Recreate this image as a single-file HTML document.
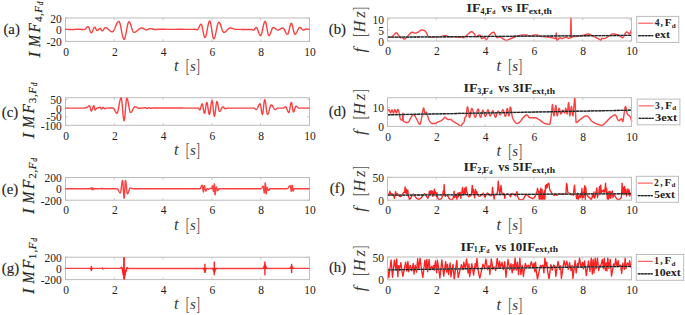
<!DOCTYPE html>
<html><head><meta charset="utf-8"><style>
html,body{margin:0;padding:0;background:#fff;overflow:hidden;}
svg{display:block;}
text{font-family:"Liberation Serif", serif;fill:#222;}
.hv{stroke:#333;stroke-width:0.2px;}
.hl{stroke:#222;stroke-width:0.15px;}
</style></head><body>
<svg width="685" height="315" viewBox="0 0 685 315">
<rect x="0" y="0" width="685" height="315" fill="#fff"/>
<rect x="65.5" y="18" width="244" height="23.4" fill="none" stroke="#bcbcbc" stroke-width="1"/>
<line x1="114.3" y1="41.4" x2="114.3" y2="39.2" stroke="#bcbcbc" stroke-width="0.8"/>
<line x1="114.3" y1="18" x2="114.3" y2="20.2" stroke="#bcbcbc" stroke-width="0.8"/>
<line x1="163.1" y1="41.4" x2="163.1" y2="39.2" stroke="#bcbcbc" stroke-width="0.8"/>
<line x1="163.1" y1="18" x2="163.1" y2="20.2" stroke="#bcbcbc" stroke-width="0.8"/>
<line x1="211.9" y1="41.4" x2="211.9" y2="39.2" stroke="#bcbcbc" stroke-width="0.8"/>
<line x1="211.9" y1="18" x2="211.9" y2="20.2" stroke="#bcbcbc" stroke-width="0.8"/>
<line x1="260.7" y1="41.4" x2="260.7" y2="39.2" stroke="#bcbcbc" stroke-width="0.8"/>
<line x1="260.7" y1="18" x2="260.7" y2="20.2" stroke="#bcbcbc" stroke-width="0.8"/>
<line x1="65.5" y1="18" x2="67.7" y2="18" stroke="#bcbcbc" stroke-width="0.8"/>
<line x1="309.5" y1="18" x2="307.3" y2="18" stroke="#bcbcbc" stroke-width="0.8"/>
<line x1="65.5" y1="29.6" x2="67.7" y2="29.6" stroke="#bcbcbc" stroke-width="0.8"/>
<line x1="309.5" y1="29.6" x2="307.3" y2="29.6" stroke="#bcbcbc" stroke-width="0.8"/>
<line x1="65.5" y1="41.3" x2="67.7" y2="41.3" stroke="#bcbcbc" stroke-width="0.8"/>
<line x1="309.5" y1="41.3" x2="307.3" y2="41.3" stroke="#bcbcbc" stroke-width="0.8"/>
<text x="61.8" y="22.5" font-size="11.5" text-anchor="end" font-weight="normal" font-style="normal" >20</text>
<text x="61.8" y="34.1" font-size="11.5" text-anchor="end" font-weight="normal" font-style="normal" >0</text>
<text x="61.8" y="45.8" font-size="11.5" text-anchor="end" font-weight="normal" font-style="normal" >-20</text>
<text x="66" y="55.6" font-size="11.5" text-anchor="middle" font-weight="normal" font-style="normal" >0</text>
<text x="114.8" y="55.6" font-size="11.5" text-anchor="middle" font-weight="normal" font-style="normal" >2</text>
<text x="163.6" y="55.6" font-size="11.5" text-anchor="middle" font-weight="normal" font-style="normal" >4</text>
<text x="212.4" y="55.6" font-size="11.5" text-anchor="middle" font-weight="normal" font-style="normal" >6</text>
<text x="261.2" y="55.6" font-size="11.5" text-anchor="middle" font-weight="normal" font-style="normal" >8</text>
<text x="310" y="55.6" font-size="11.5" text-anchor="middle" font-weight="normal" font-style="normal" >10</text>
<text x="174.02" y="71.2" font-size="16.5" font-style="italic" font-weight="normal" style="fill:#383838">t</text>
<text x="185.78" y="72.1" font-size="18.5" font-style="normal" font-weight="normal" textLength="3.7" lengthAdjust="spacingAndGlyphs" style="fill:#555">[</text>
<text x="189.97" y="71.2" font-size="15" font-style="italic" font-weight="normal" style="fill:#383838">s</text>
<text x="196.15" y="72.1" font-size="18.5" font-style="normal" font-weight="normal" textLength="3.7" lengthAdjust="spacingAndGlyphs" style="fill:#555">]</text>
<text class="hl" x="3.45" y="34.16" font-size="14.8">(a)</text>
<text transform="translate(39.8,58) rotate(-90)" x="0.47" y="0" font-size="17" font-style="italic" font-weight="normal" class="hv">I</text>
<text transform="translate(39.8,58) rotate(-90)" x="10.97" y="0" font-size="17" font-style="italic" font-weight="normal" textLength="11.9" lengthAdjust="spacingAndGlyphs" class="hv">M</text>
<text transform="translate(39.8,58) rotate(-90)" x="25.48" y="0" font-size="17" font-style="italic" font-weight="normal" textLength="9.35" lengthAdjust="spacingAndGlyphs" class="hv">F</text>
<text transform="translate(39.8,58) rotate(-90)" x="36.09" y="2" font-size="11" font-style="normal" font-weight="normal" class="hl">4</text>
<text transform="translate(39.8,58) rotate(-90)" x="41.98" y="2" font-size="11" font-style="normal" font-weight="normal" class="hl">,</text>
<text transform="translate(39.8,58) rotate(-90)" x="45.36" y="2" font-size="11" font-style="italic" font-weight="normal" class="hl">F</text>
<text transform="translate(39.8,58) rotate(-90)" x="52.77" y="3.2" font-size="7.5" font-style="italic" font-weight="normal" class="hl">d</text>
<rect x="65.5" y="97.7" width="244" height="27.6" fill="none" stroke="#bcbcbc" stroke-width="1"/>
<line x1="114.3" y1="125.3" x2="114.3" y2="123.1" stroke="#bcbcbc" stroke-width="0.8"/>
<line x1="114.3" y1="97.7" x2="114.3" y2="99.9" stroke="#bcbcbc" stroke-width="0.8"/>
<line x1="163.1" y1="125.3" x2="163.1" y2="123.1" stroke="#bcbcbc" stroke-width="0.8"/>
<line x1="163.1" y1="97.7" x2="163.1" y2="99.9" stroke="#bcbcbc" stroke-width="0.8"/>
<line x1="211.9" y1="125.3" x2="211.9" y2="123.1" stroke="#bcbcbc" stroke-width="0.8"/>
<line x1="211.9" y1="97.7" x2="211.9" y2="99.9" stroke="#bcbcbc" stroke-width="0.8"/>
<line x1="260.7" y1="125.3" x2="260.7" y2="123.1" stroke="#bcbcbc" stroke-width="0.8"/>
<line x1="260.7" y1="97.7" x2="260.7" y2="99.9" stroke="#bcbcbc" stroke-width="0.8"/>
<line x1="65.5" y1="99.4" x2="67.7" y2="99.4" stroke="#bcbcbc" stroke-width="0.8"/>
<line x1="309.5" y1="99.4" x2="307.3" y2="99.4" stroke="#bcbcbc" stroke-width="0.8"/>
<line x1="65.5" y1="108.1" x2="67.7" y2="108.1" stroke="#bcbcbc" stroke-width="0.8"/>
<line x1="309.5" y1="108.1" x2="307.3" y2="108.1" stroke="#bcbcbc" stroke-width="0.8"/>
<line x1="65.5" y1="116.8" x2="67.7" y2="116.8" stroke="#bcbcbc" stroke-width="0.8"/>
<line x1="309.5" y1="116.8" x2="307.3" y2="116.8" stroke="#bcbcbc" stroke-width="0.8"/>
<line x1="65.5" y1="125.5" x2="67.7" y2="125.5" stroke="#bcbcbc" stroke-width="0.8"/>
<line x1="309.5" y1="125.5" x2="307.3" y2="125.5" stroke="#bcbcbc" stroke-width="0.8"/>
<text x="61.8" y="103.9" font-size="11.5" text-anchor="end" font-weight="normal" font-style="normal" >50</text>
<text x="61.8" y="112.6" font-size="11.5" text-anchor="end" font-weight="normal" font-style="normal" >0</text>
<text x="61.8" y="121.3" font-size="11.5" text-anchor="end" font-weight="normal" font-style="normal" >-50</text>
<text x="61.8" y="130" font-size="11.5" text-anchor="end" font-weight="normal" font-style="normal" >-100</text>
<text x="66" y="139.5" font-size="11.5" text-anchor="middle" font-weight="normal" font-style="normal" >0</text>
<text x="114.8" y="139.5" font-size="11.5" text-anchor="middle" font-weight="normal" font-style="normal" >2</text>
<text x="163.6" y="139.5" font-size="11.5" text-anchor="middle" font-weight="normal" font-style="normal" >4</text>
<text x="212.4" y="139.5" font-size="11.5" text-anchor="middle" font-weight="normal" font-style="normal" >6</text>
<text x="261.2" y="139.5" font-size="11.5" text-anchor="middle" font-weight="normal" font-style="normal" >8</text>
<text x="310" y="139.5" font-size="11.5" text-anchor="middle" font-weight="normal" font-style="normal" >10</text>
<text x="174.02" y="155.1" font-size="16.5" font-style="italic" font-weight="normal" style="fill:#383838">t</text>
<text x="185.78" y="156" font-size="18.5" font-style="normal" font-weight="normal" textLength="3.7" lengthAdjust="spacingAndGlyphs" style="fill:#555">[</text>
<text x="189.97" y="155.1" font-size="15" font-style="italic" font-weight="normal" style="fill:#383838">s</text>
<text x="196.15" y="156" font-size="18.5" font-style="normal" font-weight="normal" textLength="3.7" lengthAdjust="spacingAndGlyphs" style="fill:#555">]</text>
<text class="hl" x="1.85" y="116.71" font-size="14.8">(c)</text>
<text transform="translate(33.8,139) rotate(-90)" x="0.47" y="0" font-size="17" font-style="italic" font-weight="normal" class="hv">I</text>
<text transform="translate(33.8,139) rotate(-90)" x="10.97" y="0" font-size="17" font-style="italic" font-weight="normal" textLength="11.9" lengthAdjust="spacingAndGlyphs" class="hv">M</text>
<text transform="translate(33.8,139) rotate(-90)" x="25.48" y="0" font-size="17" font-style="italic" font-weight="normal" textLength="9.35" lengthAdjust="spacingAndGlyphs" class="hv">F</text>
<text transform="translate(33.8,139) rotate(-90)" x="35.77" y="2" font-size="11" font-style="normal" font-weight="normal" class="hl">3</text>
<text transform="translate(33.8,139) rotate(-90)" x="41.98" y="2" font-size="11" font-style="normal" font-weight="normal" class="hl">,</text>
<text transform="translate(33.8,139) rotate(-90)" x="45.36" y="2" font-size="11" font-style="italic" font-weight="normal" class="hl">F</text>
<text transform="translate(33.8,139) rotate(-90)" x="52.77" y="3.2" font-size="7.5" font-style="italic" font-weight="normal" class="hl">d</text>
<rect x="65.5" y="177.5" width="244" height="22.7" fill="none" stroke="#bcbcbc" stroke-width="1"/>
<line x1="114.3" y1="200.2" x2="114.3" y2="198" stroke="#bcbcbc" stroke-width="0.8"/>
<line x1="114.3" y1="177.5" x2="114.3" y2="179.7" stroke="#bcbcbc" stroke-width="0.8"/>
<line x1="163.1" y1="200.2" x2="163.1" y2="198" stroke="#bcbcbc" stroke-width="0.8"/>
<line x1="163.1" y1="177.5" x2="163.1" y2="179.7" stroke="#bcbcbc" stroke-width="0.8"/>
<line x1="211.9" y1="200.2" x2="211.9" y2="198" stroke="#bcbcbc" stroke-width="0.8"/>
<line x1="211.9" y1="177.5" x2="211.9" y2="179.7" stroke="#bcbcbc" stroke-width="0.8"/>
<line x1="260.7" y1="200.2" x2="260.7" y2="198" stroke="#bcbcbc" stroke-width="0.8"/>
<line x1="260.7" y1="177.5" x2="260.7" y2="179.7" stroke="#bcbcbc" stroke-width="0.8"/>
<line x1="65.5" y1="177.5" x2="67.7" y2="177.5" stroke="#bcbcbc" stroke-width="0.8"/>
<line x1="309.5" y1="177.5" x2="307.3" y2="177.5" stroke="#bcbcbc" stroke-width="0.8"/>
<line x1="65.5" y1="188.8" x2="67.7" y2="188.8" stroke="#bcbcbc" stroke-width="0.8"/>
<line x1="309.5" y1="188.8" x2="307.3" y2="188.8" stroke="#bcbcbc" stroke-width="0.8"/>
<line x1="65.5" y1="200.2" x2="67.7" y2="200.2" stroke="#bcbcbc" stroke-width="0.8"/>
<line x1="309.5" y1="200.2" x2="307.3" y2="200.2" stroke="#bcbcbc" stroke-width="0.8"/>
<text x="61.8" y="182" font-size="11.5" text-anchor="end" font-weight="normal" font-style="normal" >200</text>
<text x="61.8" y="193.3" font-size="11.5" text-anchor="end" font-weight="normal" font-style="normal" >0</text>
<text x="61.8" y="204.7" font-size="11.5" text-anchor="end" font-weight="normal" font-style="normal" >-200</text>
<text x="66" y="214.4" font-size="11.5" text-anchor="middle" font-weight="normal" font-style="normal" >0</text>
<text x="114.8" y="214.4" font-size="11.5" text-anchor="middle" font-weight="normal" font-style="normal" >2</text>
<text x="163.6" y="214.4" font-size="11.5" text-anchor="middle" font-weight="normal" font-style="normal" >4</text>
<text x="212.4" y="214.4" font-size="11.5" text-anchor="middle" font-weight="normal" font-style="normal" >6</text>
<text x="261.2" y="214.4" font-size="11.5" text-anchor="middle" font-weight="normal" font-style="normal" >8</text>
<text x="310" y="214.4" font-size="11.5" text-anchor="middle" font-weight="normal" font-style="normal" >10</text>
<text x="174.02" y="230" font-size="16.5" font-style="italic" font-weight="normal" style="fill:#383838">t</text>
<text x="185.78" y="230.9" font-size="18.5" font-style="normal" font-weight="normal" textLength="3.7" lengthAdjust="spacingAndGlyphs" style="fill:#555">[</text>
<text x="189.97" y="230" font-size="15" font-style="italic" font-weight="normal" style="fill:#383838">s</text>
<text x="196.15" y="230.9" font-size="18.5" font-style="normal" font-weight="normal" textLength="3.7" lengthAdjust="spacingAndGlyphs" style="fill:#555">]</text>
<text class="hl" x="1.85" y="193.56" font-size="14.8">(e)</text>
<text transform="translate(33.8,214.5) rotate(-90)" x="0.47" y="0" font-size="17" font-style="italic" font-weight="normal" class="hv">I</text>
<text transform="translate(33.8,214.5) rotate(-90)" x="10.97" y="0" font-size="17" font-style="italic" font-weight="normal" textLength="11.9" lengthAdjust="spacingAndGlyphs" class="hv">M</text>
<text transform="translate(33.8,214.5) rotate(-90)" x="25.48" y="0" font-size="17" font-style="italic" font-weight="normal" textLength="9.35" lengthAdjust="spacingAndGlyphs" class="hv">F</text>
<text transform="translate(33.8,214.5) rotate(-90)" x="35.82" y="2" font-size="11" font-style="normal" font-weight="normal" class="hl">2</text>
<text transform="translate(33.8,214.5) rotate(-90)" x="41.98" y="2" font-size="11" font-style="normal" font-weight="normal" class="hl">,</text>
<text transform="translate(33.8,214.5) rotate(-90)" x="45.36" y="2" font-size="11" font-style="italic" font-weight="normal" class="hl">F</text>
<text transform="translate(33.8,214.5) rotate(-90)" x="52.77" y="3.2" font-size="7.5" font-style="italic" font-weight="normal" class="hl">d</text>
<rect x="65.5" y="257.2" width="244" height="22.4" fill="none" stroke="#bcbcbc" stroke-width="1"/>
<line x1="114.3" y1="279.6" x2="114.3" y2="277.4" stroke="#bcbcbc" stroke-width="0.8"/>
<line x1="114.3" y1="257.2" x2="114.3" y2="259.4" stroke="#bcbcbc" stroke-width="0.8"/>
<line x1="163.1" y1="279.6" x2="163.1" y2="277.4" stroke="#bcbcbc" stroke-width="0.8"/>
<line x1="163.1" y1="257.2" x2="163.1" y2="259.4" stroke="#bcbcbc" stroke-width="0.8"/>
<line x1="211.9" y1="279.6" x2="211.9" y2="277.4" stroke="#bcbcbc" stroke-width="0.8"/>
<line x1="211.9" y1="257.2" x2="211.9" y2="259.4" stroke="#bcbcbc" stroke-width="0.8"/>
<line x1="260.7" y1="279.6" x2="260.7" y2="277.4" stroke="#bcbcbc" stroke-width="0.8"/>
<line x1="260.7" y1="257.2" x2="260.7" y2="259.4" stroke="#bcbcbc" stroke-width="0.8"/>
<line x1="65.5" y1="257.2" x2="67.7" y2="257.2" stroke="#bcbcbc" stroke-width="0.8"/>
<line x1="309.5" y1="257.2" x2="307.3" y2="257.2" stroke="#bcbcbc" stroke-width="0.8"/>
<line x1="65.5" y1="268.4" x2="67.7" y2="268.4" stroke="#bcbcbc" stroke-width="0.8"/>
<line x1="309.5" y1="268.4" x2="307.3" y2="268.4" stroke="#bcbcbc" stroke-width="0.8"/>
<line x1="65.5" y1="279.6" x2="67.7" y2="279.6" stroke="#bcbcbc" stroke-width="0.8"/>
<line x1="309.5" y1="279.6" x2="307.3" y2="279.6" stroke="#bcbcbc" stroke-width="0.8"/>
<text x="61.8" y="261.7" font-size="11.5" text-anchor="end" font-weight="normal" font-style="normal" >200</text>
<text x="61.8" y="272.9" font-size="11.5" text-anchor="end" font-weight="normal" font-style="normal" >0</text>
<text x="61.8" y="284.1" font-size="11.5" text-anchor="end" font-weight="normal" font-style="normal" >-200</text>
<text x="66" y="293.8" font-size="11.5" text-anchor="middle" font-weight="normal" font-style="normal" >0</text>
<text x="114.8" y="293.8" font-size="11.5" text-anchor="middle" font-weight="normal" font-style="normal" >2</text>
<text x="163.6" y="293.8" font-size="11.5" text-anchor="middle" font-weight="normal" font-style="normal" >4</text>
<text x="212.4" y="293.8" font-size="11.5" text-anchor="middle" font-weight="normal" font-style="normal" >6</text>
<text x="261.2" y="293.8" font-size="11.5" text-anchor="middle" font-weight="normal" font-style="normal" >8</text>
<text x="310" y="293.8" font-size="11.5" text-anchor="middle" font-weight="normal" font-style="normal" >10</text>
<text x="174.02" y="309.4" font-size="16.5" font-style="italic" font-weight="normal" style="fill:#383838">t</text>
<text x="185.78" y="310.3" font-size="18.5" font-style="normal" font-weight="normal" textLength="3.7" lengthAdjust="spacingAndGlyphs" style="fill:#555">[</text>
<text x="189.97" y="309.4" font-size="15" font-style="italic" font-weight="normal" style="fill:#383838">s</text>
<text x="196.15" y="310.3" font-size="18.5" font-style="normal" font-weight="normal" textLength="3.7" lengthAdjust="spacingAndGlyphs" style="fill:#555">]</text>
<text class="hl" x="1.85" y="273.26" font-size="14.8">(g)</text>
<text transform="translate(33.8,294.5) rotate(-90)" x="0.47" y="0" font-size="17" font-style="italic" font-weight="normal" class="hv">I</text>
<text transform="translate(33.8,294.5) rotate(-90)" x="10.97" y="0" font-size="17" font-style="italic" font-weight="normal" textLength="11.9" lengthAdjust="spacingAndGlyphs" class="hv">M</text>
<text transform="translate(33.8,294.5) rotate(-90)" x="25.48" y="0" font-size="17" font-style="italic" font-weight="normal" textLength="9.35" lengthAdjust="spacingAndGlyphs" class="hv">F</text>
<text transform="translate(33.8,294.5) rotate(-90)" x="35.33" y="2" font-size="11" font-style="normal" font-weight="normal" class="hl">1</text>
<text transform="translate(33.8,294.5) rotate(-90)" x="41.98" y="2" font-size="11" font-style="normal" font-weight="normal" class="hl">,</text>
<text transform="translate(33.8,294.5) rotate(-90)" x="45.36" y="2" font-size="11" font-style="italic" font-weight="normal" class="hl">F</text>
<text transform="translate(33.8,294.5) rotate(-90)" x="52.77" y="3.2" font-size="7.5" font-style="italic" font-weight="normal" class="hl">d</text>
<text x="388" y="55.2" font-size="11.5" text-anchor="middle" font-weight="normal" font-style="normal" >0</text>
<text x="436.8" y="55.2" font-size="11.5" text-anchor="middle" font-weight="normal" font-style="normal" >2</text>
<text x="485.6" y="55.2" font-size="11.5" text-anchor="middle" font-weight="normal" font-style="normal" >4</text>
<text x="534.4" y="55.2" font-size="11.5" text-anchor="middle" font-weight="normal" font-style="normal" >6</text>
<text x="583.2" y="55.2" font-size="11.5" text-anchor="middle" font-weight="normal" font-style="normal" >8</text>
<text x="632" y="55.2" font-size="11.5" text-anchor="middle" font-weight="normal" font-style="normal" >10</text>
<text x="496.42" y="70.8" font-size="16.5" font-style="italic" font-weight="normal" style="fill:#383838">t</text>
<text x="508.18" y="71.7" font-size="18.5" font-style="normal" font-weight="normal" textLength="3.7" lengthAdjust="spacingAndGlyphs" style="fill:#555">[</text>
<text x="512.37" y="70.8" font-size="15" font-style="italic" font-weight="normal" style="fill:#383838">s</text>
<text x="518.55" y="71.7" font-size="18.5" font-style="normal" font-weight="normal" textLength="3.7" lengthAdjust="spacingAndGlyphs" style="fill:#555">]</text>
<text class="hl" x="328.75" y="33.56" font-size="14.8">(b)</text>
<text transform="translate(365,51.7) rotate(-90)" x="-0.69" y="0" font-size="17" font-style="italic" font-weight="normal" style="fill:#383838">f</text>
<text transform="translate(365,51.7) rotate(-90)" x="14.88" y="1.4" font-size="18.5" font-style="normal" font-weight="normal" textLength="3.7" lengthAdjust="spacingAndGlyphs" style="fill:#555">[</text>
<text transform="translate(365,51.7) rotate(-90)" x="19.28" y="0" font-size="16.5" font-style="italic" font-weight="normal" style="fill:#383838">H</text>
<text transform="translate(365,51.7) rotate(-90)" x="33.99" y="0" font-size="16.5" font-style="italic" font-weight="normal" style="fill:#383838">z</text>
<text transform="translate(365,51.7) rotate(-90)" x="41.3" y="1.4" font-size="18.5" font-style="normal" font-weight="normal" textLength="3.7" lengthAdjust="spacingAndGlyphs" style="fill:#555">]</text>
<text x="388" y="140.6" font-size="11.5" text-anchor="middle" font-weight="normal" font-style="normal" >0</text>
<text x="436.8" y="140.6" font-size="11.5" text-anchor="middle" font-weight="normal" font-style="normal" >2</text>
<text x="485.6" y="140.6" font-size="11.5" text-anchor="middle" font-weight="normal" font-style="normal" >4</text>
<text x="534.4" y="140.6" font-size="11.5" text-anchor="middle" font-weight="normal" font-style="normal" >6</text>
<text x="583.2" y="140.6" font-size="11.5" text-anchor="middle" font-weight="normal" font-style="normal" >8</text>
<text x="632" y="140.6" font-size="11.5" text-anchor="middle" font-weight="normal" font-style="normal" >10</text>
<text x="496.42" y="156.2" font-size="16.5" font-style="italic" font-weight="normal" style="fill:#383838">t</text>
<text x="508.18" y="157.1" font-size="18.5" font-style="normal" font-weight="normal" textLength="3.7" lengthAdjust="spacingAndGlyphs" style="fill:#555">[</text>
<text x="512.37" y="156.2" font-size="15" font-style="italic" font-weight="normal" style="fill:#383838">s</text>
<text x="518.55" y="157.1" font-size="18.5" font-style="normal" font-weight="normal" textLength="3.7" lengthAdjust="spacingAndGlyphs" style="fill:#555">]</text>
<text class="hl" x="328.75" y="116.46" font-size="14.8">(d)</text>
<text transform="translate(365,134.25) rotate(-90)" x="-0.69" y="0" font-size="17" font-style="italic" font-weight="normal" style="fill:#383838">f</text>
<text transform="translate(365,134.25) rotate(-90)" x="14.88" y="1.4" font-size="18.5" font-style="normal" font-weight="normal" textLength="3.7" lengthAdjust="spacingAndGlyphs" style="fill:#555">[</text>
<text transform="translate(365,134.25) rotate(-90)" x="19.28" y="0" font-size="16.5" font-style="italic" font-weight="normal" style="fill:#383838">H</text>
<text transform="translate(365,134.25) rotate(-90)" x="33.99" y="0" font-size="16.5" font-style="italic" font-weight="normal" style="fill:#383838">z</text>
<text transform="translate(365,134.25) rotate(-90)" x="41.3" y="1.4" font-size="18.5" font-style="normal" font-weight="normal" textLength="3.7" lengthAdjust="spacingAndGlyphs" style="fill:#555">]</text>
<text x="388" y="214.4" font-size="11.5" text-anchor="middle" font-weight="normal" font-style="normal" >0</text>
<text x="436.8" y="214.4" font-size="11.5" text-anchor="middle" font-weight="normal" font-style="normal" >2</text>
<text x="485.6" y="214.4" font-size="11.5" text-anchor="middle" font-weight="normal" font-style="normal" >4</text>
<text x="534.4" y="214.4" font-size="11.5" text-anchor="middle" font-weight="normal" font-style="normal" >6</text>
<text x="583.2" y="214.4" font-size="11.5" text-anchor="middle" font-weight="normal" font-style="normal" >8</text>
<text x="632" y="214.4" font-size="11.5" text-anchor="middle" font-weight="normal" font-style="normal" >10</text>
<text x="496.42" y="230" font-size="16.5" font-style="italic" font-weight="normal" style="fill:#383838">t</text>
<text x="508.18" y="230.9" font-size="18.5" font-style="normal" font-weight="normal" textLength="3.7" lengthAdjust="spacingAndGlyphs" style="fill:#555">[</text>
<text x="512.37" y="230" font-size="15" font-style="italic" font-weight="normal" style="fill:#383838">s</text>
<text x="518.55" y="230.9" font-size="18.5" font-style="normal" font-weight="normal" textLength="3.7" lengthAdjust="spacingAndGlyphs" style="fill:#555">]</text>
<text class="hl" x="329.85" y="192.56" font-size="14.8">(f)</text>
<text transform="translate(365,210.95) rotate(-90)" x="-0.69" y="0" font-size="17" font-style="italic" font-weight="normal" style="fill:#383838">f</text>
<text transform="translate(365,210.95) rotate(-90)" x="14.88" y="1.4" font-size="18.5" font-style="normal" font-weight="normal" textLength="3.7" lengthAdjust="spacingAndGlyphs" style="fill:#555">[</text>
<text transform="translate(365,210.95) rotate(-90)" x="19.28" y="0" font-size="16.5" font-style="italic" font-weight="normal" style="fill:#383838">H</text>
<text transform="translate(365,210.95) rotate(-90)" x="33.99" y="0" font-size="16.5" font-style="italic" font-weight="normal" style="fill:#383838">z</text>
<text transform="translate(365,210.95) rotate(-90)" x="41.3" y="1.4" font-size="18.5" font-style="normal" font-weight="normal" textLength="3.7" lengthAdjust="spacingAndGlyphs" style="fill:#555">]</text>
<text x="388" y="294" font-size="11.5" text-anchor="middle" font-weight="normal" font-style="normal" >0</text>
<text x="436.8" y="294" font-size="11.5" text-anchor="middle" font-weight="normal" font-style="normal" >2</text>
<text x="485.6" y="294" font-size="11.5" text-anchor="middle" font-weight="normal" font-style="normal" >4</text>
<text x="534.4" y="294" font-size="11.5" text-anchor="middle" font-weight="normal" font-style="normal" >6</text>
<text x="583.2" y="294" font-size="11.5" text-anchor="middle" font-weight="normal" font-style="normal" >8</text>
<text x="632" y="294" font-size="11.5" text-anchor="middle" font-weight="normal" font-style="normal" >10</text>
<text x="496.42" y="309.6" font-size="16.5" font-style="italic" font-weight="normal" style="fill:#383838">t</text>
<text x="508.18" y="310.5" font-size="18.5" font-style="normal" font-weight="normal" textLength="3.7" lengthAdjust="spacingAndGlyphs" style="fill:#555">[</text>
<text x="512.37" y="309.6" font-size="15" font-style="italic" font-weight="normal" style="fill:#383838">s</text>
<text x="518.55" y="310.5" font-size="18.5" font-style="normal" font-weight="normal" textLength="3.7" lengthAdjust="spacingAndGlyphs" style="fill:#555">]</text>
<text class="hl" x="328.95" y="271.56" font-size="14.8">(h)</text>
<text transform="translate(365,290.6) rotate(-90)" x="-0.69" y="0" font-size="17" font-style="italic" font-weight="normal" style="fill:#383838">f</text>
<text transform="translate(365,290.6) rotate(-90)" x="14.88" y="1.4" font-size="18.5" font-style="normal" font-weight="normal" textLength="3.7" lengthAdjust="spacingAndGlyphs" style="fill:#555">[</text>
<text transform="translate(365,290.6) rotate(-90)" x="19.28" y="0" font-size="16.5" font-style="italic" font-weight="normal" style="fill:#383838">H</text>
<text transform="translate(365,290.6) rotate(-90)" x="33.99" y="0" font-size="16.5" font-style="italic" font-weight="normal" style="fill:#383838">z</text>
<text transform="translate(365,290.6) rotate(-90)" x="41.3" y="1.4" font-size="18.5" font-style="normal" font-weight="normal" textLength="3.7" lengthAdjust="spacingAndGlyphs" style="fill:#555">]</text>
<polyline points="65.5,268.4 101.8,268.4 102.4,267.7 103,269.1 103.6,268.4 120.3,268.4 121.3,267.3 122.1,268.2 123.3,273.8 123.9,277.5 124.05,257.8 124.2,279 124.5,276.5 125.4,272.5 126.4,269.5 127.2,267.4 128.2,268.5 309.5,268.4" fill="none" stroke="#ff4040" stroke-width="1.4" stroke-linejoin="round" />
<polyline points="121.3,267.3 122.1,268.2 123.3,273.8 123.9,277.5 124.05,257.8 124.2,279 124.5,276.5 125.4,272.5 126.4,269.5 127.2,267.4" fill="none" stroke="#ff2020" stroke-width="1.4" stroke-linejoin="round" />
<polygon points="90,268.4 92.8,268.4 91.4,270.6" fill="#ff2020" stroke="#ff2020" stroke-width="0.6" stroke-linejoin="round"/>
<line x1="91.4" y1="265.9" x2="91.4" y2="270.9" stroke="#ff2020" stroke-width="1.4"/>
<polygon points="203.2,268.4 206.6,268.4 204.9,272.6" fill="#ff2020" stroke="#ff2020" stroke-width="0.6" stroke-linejoin="round"/>
<line x1="204.9" y1="263.8" x2="204.9" y2="273" stroke="#ff2020" stroke-width="1.4"/>
<polygon points="212.3,268.4 216.3,268.4 214.3,273.4" fill="#ff2020" stroke="#ff2020" stroke-width="0.6" stroke-linejoin="round"/>
<line x1="214.3" y1="261.5" x2="214.3" y2="275.3" stroke="#ff2020" stroke-width="1.4"/>
<polygon points="262.8,268.4 267,268.4 264.9,263.6" fill="#ff2020" stroke="#ff2020" stroke-width="0.6" stroke-linejoin="round"/>
<line x1="264.9" y1="261.6" x2="264.9" y2="275.3" stroke="#ff2020" stroke-width="1.4"/>
<polygon points="289.7,268.4 293.5,268.4 291.6,265.3" fill="#ff2020" stroke="#ff2020" stroke-width="0.6" stroke-linejoin="round"/>
<line x1="291.6" y1="263.8" x2="291.6" y2="273.1" stroke="#ff2020" stroke-width="1.4"/>
<polygon points="122.6,270.5 125.6,270.5 124.1,277.5" fill="#ff2020"/>
<polyline points="65.5,29.3 65.75,29.3 66,29.3 66.25,29.31 66.5,29.32 66.75,29.33 67,29.34 67.25,29.35 67.5,29.36 67.75,29.38 68,29.4 68.25,29.41 68.5,29.43 68.75,29.45 69,29.47 69.25,29.49 69.5,29.5 69.75,29.52 70,29.54 70.25,29.55 70.5,29.56 70.75,29.57 71,29.58 71.25,29.59 71.5,29.6 71.75,29.6 72,29.6 72.25,29.6 72.5,29.59 72.75,29.58 73,29.57 73.25,29.56 73.5,29.54 73.75,29.52 74,29.5 74.25,29.48 74.5,29.45 74.75,29.43 75,29.4 75.25,29.37 75.5,29.35 75.75,29.32 76,29.3 76.25,29.28 76.5,29.26 76.75,29.24 77,29.23 77.25,29.22 77.5,29.21 77.75,29.2 78,29.2 78.25,29.2 78.5,29.21 78.75,29.22 79,29.23 79.25,29.24 79.5,29.26 79.75,29.28 80,29.3 80.25,29.32 80.5,29.35 80.75,29.37 81,29.4 81.25,29.43 81.5,29.45 81.75,29.48 82,29.5 82.25,29.52 82.5,29.54 82.75,29.56 83,29.57 83.25,29.58 83.5,29.59 83.75,29.6 84,29.6 84.26,29.57 84.51,29.49 84.77,29.36 85.03,29.18 85.28,28.96 85.54,28.7 85.79,28.43 86.05,28.15 86.31,27.87 86.56,27.6 86.82,27.34 87.07,27.12 87.33,26.94 87.59,26.81 87.84,26.73 88.1,26.7 88.37,26.8 88.63,27.11 88.9,27.59 89.17,28.22 89.43,28.96 89.7,29.75 89.97,30.54 90.23,31.27 90.5,31.91 90.77,32.39 91.03,32.7 91.3,32.8 91.56,32.72 91.82,32.47 92.08,32.08 92.35,31.57 92.61,30.96 92.87,30.29 93.13,29.61 93.39,28.94 93.65,28.33 93.92,27.82 94.18,27.43 94.44,27.18 94.7,27.1 94.96,27.2 95.21,27.5 95.47,27.95 95.72,28.5 95.98,29.1 96.23,29.65 96.49,30.1 96.74,30.4 97,30.5 97.27,30.46 97.53,30.36 97.8,30.19 98.07,29.98 98.33,29.72 98.6,29.45 98.87,29.18 99.13,28.93 99.4,28.71 99.67,28.54 99.93,28.44 100.2,28.4 100.47,28.52 100.74,28.87 101.01,29.37 101.29,29.93 101.56,30.43 101.83,30.78 102.1,30.9 102.36,30.85 102.62,30.71 102.88,30.49 103.15,30.19 103.41,29.84 103.67,29.45 103.93,29.05 104.19,28.66 104.45,28.31 104.72,28.01 104.98,27.79 105.24,27.65 105.5,27.6 105.76,27.62 106.02,27.66 106.27,27.74 106.53,27.84 106.79,27.97 107.05,28.13 107.3,28.31 107.56,28.51 107.82,28.72 108.08,28.96 108.33,29.2 108.59,29.45 108.85,29.7 109.11,29.95 109.37,30.2 109.62,30.44 109.88,30.68 110.14,30.89 110.4,31.09 110.65,31.27 110.91,31.43 111.17,31.56 111.43,31.66 111.68,31.74 111.94,31.78 112.2,31.8 112.45,31.76 112.71,31.65 112.96,31.46 113.22,31.2 113.47,30.88 113.72,30.49 113.98,30.05 114.23,29.55 114.48,29.02 114.74,28.44 114.99,27.84 115.25,27.23 115.5,26.6 115.75,25.97 116.01,25.36 116.26,24.76 116.52,24.18 116.77,23.65 117.02,23.15 117.28,22.71 117.53,22.32 117.78,22 118.04,21.74 118.29,21.55 118.55,21.44 118.8,21.4 119.05,21.5 119.3,21.8 119.56,22.29 119.81,22.96 120.06,23.8 120.31,24.79 120.57,25.9 120.82,27.11 121.07,28.4 121.32,29.73 121.58,31.07 121.83,32.4 122.08,33.69 122.33,34.9 122.59,36.01 122.84,37 123.09,37.84 123.34,38.51 123.6,39 123.85,39.3 124.1,39.4 124.35,39.28 124.61,38.92 124.86,38.34 125.11,37.54 125.36,36.56 125.62,35.41 125.87,34.13 126.12,32.76 126.37,31.33 126.63,29.87 126.88,28.44 127.13,27.07 127.38,25.79 127.64,24.64 127.89,23.66 128.14,22.86 128.39,22.28 128.65,21.92 128.9,21.8 129.16,21.87 129.41,22.06 129.66,22.38 129.92,22.81 130.18,23.35 130.43,23.98 130.69,24.69 130.94,25.46 131.19,26.27 131.45,27.1 131.71,27.93 131.96,28.74 132.22,29.51 132.47,30.22 132.72,30.85 132.98,31.39 133.24,31.82 133.49,32.14 133.75,32.33 134,32.4 134.25,32.39 134.51,32.35 134.76,32.29 135.01,32.21 135.27,32.11 135.52,31.98 135.77,31.83 136.03,31.67 136.28,31.49 136.53,31.3 136.79,31.09 137.04,30.88 137.29,30.66 137.55,30.43 137.8,30.2 138.05,29.97 138.31,29.74 138.56,29.52 138.81,29.31 139.07,29.1 139.32,28.91 139.57,28.73 139.83,28.57 140.08,28.42 140.33,28.29 140.59,28.19 140.84,28.11 141.09,28.05 141.35,28.01 141.6,28 141.86,28.01 142.12,28.06 142.38,28.13 142.64,28.22 142.91,28.34 143.17,28.47 143.43,28.63 143.69,28.79 143.95,28.95 144.21,29.11 144.47,29.27 144.73,29.42 144.99,29.56 145.26,29.68 145.52,29.77 145.78,29.84 146.04,29.89 146.3,29.9 146.55,29.89 146.81,29.84 147.06,29.78 147.31,29.68 147.57,29.57 147.82,29.45 148.07,29.32 148.33,29.18 148.58,29.05 148.83,28.93 149.09,28.82 149.34,28.72 149.59,28.66 149.85,28.61 150.1,28.6 150.36,28.61 150.62,28.62 150.87,28.65 151.13,28.69 151.39,28.75 151.65,28.8 151.91,28.87 152.16,28.94 152.42,29.01 152.68,29.09 152.94,29.16 153.19,29.23 153.45,29.3 153.71,29.35 153.97,29.41 154.23,29.45 154.48,29.48 154.74,29.49 155,29.5 155.25,29.5 155.5,29.49 155.75,29.48 156,29.47 156.25,29.46 156.5,29.44 156.75,29.42 157,29.4 157.25,29.37 157.5,29.35 157.75,29.33 158,29.3 158.25,29.28 158.5,29.26 158.75,29.24 159,29.23 159.25,29.22 159.5,29.21 159.75,29.2 160,29.2 160.25,29.2 160.5,29.2 160.75,29.2 161,29.2 161.25,29.21 161.5,29.21 161.75,29.21 162,29.22 162.25,29.22 162.5,29.23 162.75,29.24 163,29.24 163.25,29.25 163.5,29.25 163.75,29.26 164,29.27 164.25,29.28 164.5,29.28 164.75,29.29 165,29.3 165.25,29.31 165.5,29.32 165.75,29.32 166,29.33 166.25,29.34 166.5,29.35 166.75,29.35 167,29.36 167.25,29.36 167.5,29.37 167.75,29.38 168,29.38 168.25,29.39 168.5,29.39 168.75,29.39 169,29.4 169.25,29.4 169.5,29.4 169.75,29.4 170,29.4 170.25,29.4 170.5,29.4 170.75,29.4 171,29.4 171.25,29.4 171.5,29.39 171.75,29.39 172,29.39 172.25,29.39 172.5,29.39 172.75,29.38 173,29.38 173.25,29.38 173.5,29.37 173.75,29.37 174,29.37 174.25,29.36 174.5,29.36 174.75,29.35 175,29.35 175.25,29.35 175.5,29.34 175.75,29.34 176,29.33 176.25,29.33 176.5,29.33 176.75,29.32 177,29.32 177.25,29.32 177.5,29.31 177.75,29.31 178,29.31 178.25,29.31 178.5,29.31 178.75,29.3 179,29.3 179.25,29.3 179.5,29.3 179.75,29.3 180,29.3 180.25,29.3 180.5,29.3 180.75,29.3 181,29.3 181.25,29.3 181.5,29.31 181.75,29.31 182,29.31 182.25,29.31 182.5,29.31 182.75,29.32 183,29.32 183.25,29.32 183.5,29.33 183.75,29.33 184,29.33 184.25,29.34 184.5,29.34 184.75,29.35 185,29.35 185.25,29.35 185.5,29.36 185.75,29.36 186,29.37 186.25,29.37 186.5,29.37 186.75,29.38 187,29.38 187.25,29.38 187.5,29.39 187.75,29.39 188,29.39 188.25,29.39 188.5,29.39 188.75,29.4 189,29.4 189.25,29.4 189.5,29.4 189.75,29.4 190,29.4 190.25,29.4 190.5,29.4 190.75,29.39 191,29.39 191.25,29.39 191.5,29.38 191.75,29.37 192,29.37 192.25,29.36 192.5,29.35 192.75,29.34 193,29.33 193.25,29.33 193.5,29.32 193.75,29.31 194,29.31 194.25,29.31 194.5,29.3 194.75,29.3 195,29.3 195.25,29.32 195.5,29.37 195.75,29.45 196,29.55 196.25,29.65 196.5,29.73 196.75,29.78 197,29.8 197.26,29.75 197.51,29.59 197.77,29.33 198.03,28.98 198.28,28.56 198.54,28.07 198.79,27.55 199.05,27 199.31,26.45 199.56,25.93 199.82,25.44 200.07,25.02 200.33,24.67 200.59,24.41 200.84,24.25 201.1,24.2 201.35,24.35 201.61,24.77 201.86,25.47 202.11,26.4 202.37,27.52 202.62,28.8 202.87,30.15 203.13,31.55 203.38,32.9 203.63,34.17 203.89,35.3 204.14,36.23 204.39,36.93 204.65,37.35 204.9,37.5 205.15,37.39 205.41,37.05 205.66,36.51 205.91,35.76 206.16,34.84 206.42,33.76 206.67,32.56 206.92,31.28 207.17,29.93 207.43,28.57 207.68,27.22 207.93,25.94 208.18,24.74 208.44,23.66 208.69,22.74 208.94,21.99 209.19,21.45 209.45,21.11 209.7,21 209.96,21.17 210.21,21.68 210.47,22.5 210.72,23.61 210.98,24.96 211.24,26.49 211.49,28.16 211.75,29.9 212.01,31.64 212.26,33.31 212.52,34.84 212.78,36.19 213.03,37.3 213.29,38.12 213.54,38.63 213.8,38.8 214.05,38.7 214.3,38.4 214.55,37.9 214.8,37.22 215.05,36.38 215.3,35.4 215.55,34.3 215.8,33.1 216.05,31.84 216.3,30.55 216.55,29.26 216.8,28 217.05,26.8 217.3,25.7 217.55,24.72 217.8,23.88 218.05,23.2 218.3,22.7 218.55,22.4 218.8,22.3 219.06,22.36 219.31,22.55 219.56,22.85 219.82,23.26 220.08,23.78 220.33,24.38 220.59,25.06 220.84,25.79 221.09,26.56 221.35,27.35 221.61,28.14 221.86,28.91 222.12,29.64 222.37,30.32 222.62,30.92 222.88,31.44 223.14,31.85 223.39,32.15 223.65,32.34 223.9,32.4 224.15,32.38 224.4,32.33 224.66,32.25 224.91,32.13 225.16,31.98 225.41,31.8 225.66,31.6 225.92,31.38 226.17,31.14 226.42,30.88 226.67,30.61 226.92,30.34 227.18,30.06 227.43,29.79 227.68,29.52 227.93,29.26 228.18,29.02 228.44,28.8 228.69,28.6 228.94,28.42 229.19,28.27 229.44,28.15 229.7,28.07 229.95,28.02 230.2,28 230.45,28.01 230.7,28.03 230.96,28.06 231.21,28.1 231.46,28.16 231.71,28.22 231.97,28.3 232.22,28.38 232.47,28.47 232.72,28.56 232.97,28.65 233.23,28.75 233.48,28.84 233.73,28.93 233.98,29.02 234.23,29.1 234.49,29.18 234.74,29.24 234.99,29.3 235.24,29.34 235.5,29.37 235.75,29.39 236,29.4 236.25,29.4 236.5,29.4 236.76,29.4 237.01,29.4 237.26,29.4 237.51,29.4 237.77,29.4 238.02,29.4 238.27,29.41 238.52,29.41 238.78,29.41 239.03,29.41 239.28,29.41 239.53,29.41 239.79,29.41 240.04,29.42 240.29,29.42 240.54,29.42 240.8,29.42 241.05,29.42 241.3,29.43 241.55,29.43 241.81,29.43 242.06,29.43 242.31,29.44 242.56,29.44 242.82,29.44 243.07,29.44 243.32,29.45 243.57,29.45 243.83,29.45 244.08,29.45 244.33,29.46 244.58,29.46 244.84,29.46 245.09,29.46 245.34,29.47 245.59,29.47 245.85,29.47 246.1,29.47 246.35,29.48 246.6,29.48 246.86,29.48 247.11,29.48 247.36,29.48 247.61,29.49 247.87,29.49 248.12,29.49 248.37,29.49 248.62,29.49 248.88,29.49 249.13,29.49 249.38,29.5 249.63,29.5 249.89,29.5 250.14,29.5 250.39,29.5 250.64,29.5 250.9,29.5 251.15,29.5 251.4,29.5 251.66,29.53 251.93,29.6 252.19,29.72 252.45,29.85 252.71,29.98 252.97,30.1 253.24,30.17 253.5,30.2 253.77,30.13 254.04,29.94 254.31,29.64 254.58,29.27 254.85,28.85 255.12,28.43 255.39,28.06 255.66,27.76 255.93,27.57 256.2,27.5 256.45,27.57 256.71,27.77 256.96,28.11 257.21,28.56 257.46,29.11 257.72,29.74 257.97,30.44 258.22,31.18 258.48,31.92 258.73,32.66 258.98,33.36 259.24,33.99 259.49,34.54 259.74,34.99 259.99,35.33 260.25,35.53 260.5,35.6 260.76,35.49 261.01,35.17 261.27,34.65 261.52,33.94 261.78,33.06 262.03,32.05 262.29,30.93 262.54,29.73 262.8,28.5 263.06,27.27 263.31,26.07 263.57,24.95 263.82,23.94 264.08,23.06 264.33,22.35 264.59,21.83 264.84,21.51 265.1,21.4 265.35,21.56 265.61,22.01 265.86,22.76 266.11,23.75 266.37,24.95 266.62,26.31 266.87,27.76 267.13,29.24 267.38,30.69 267.63,32.05 267.89,33.25 268.14,34.24 268.39,34.99 268.65,35.44 268.9,35.6 269.15,35.53 269.41,35.33 269.66,34.99 269.91,34.54 270.16,33.99 270.42,33.36 270.67,32.66 270.92,31.92 271.18,31.18 271.43,30.44 271.68,29.74 271.94,29.11 272.19,28.56 272.44,28.11 272.69,27.77 272.95,27.57 273.2,27.5 273.45,27.52 273.71,27.57 273.96,27.65 274.21,27.76 274.46,27.9 274.72,28.07 274.97,28.25 275.22,28.44 275.47,28.65 275.73,28.85 275.98,29.06 276.23,29.25 276.48,29.43 276.74,29.6 276.99,29.74 277.24,29.85 277.49,29.93 277.75,29.98 278,30 278.26,29.98 278.52,29.94 278.78,29.87 279.04,29.77 279.31,29.64 279.57,29.5 279.83,29.34 280.09,29.17 280.35,29 280.61,28.83 280.87,28.66 281.13,28.5 281.39,28.36 281.66,28.23 281.92,28.13 282.18,28.06 282.44,28.02 282.7,28 282.95,28.04 283.21,28.17 283.46,28.38 283.71,28.66 283.96,29.02 284.22,29.43 284.47,29.88 284.72,30.38 284.97,30.89 285.23,31.41 285.48,31.92 285.73,32.42 285.98,32.87 286.24,33.28 286.49,33.64 286.74,33.92 286.99,34.13 287.25,34.26 287.5,34.3 287.75,34.18 288.01,33.82 288.26,33.25 288.51,32.48 288.77,31.55 289.02,30.5 289.27,29.37 289.53,28.23 289.78,27.1 290.03,26.05 290.29,25.12 290.54,24.35 290.79,23.78 291.05,23.42 291.3,23.3 291.56,23.44 291.83,23.84 292.09,24.5 292.36,25.37 292.62,26.41 292.89,27.58 293.15,28.8 293.41,30.02 293.68,31.19 293.94,32.23 294.21,33.1 294.47,33.76 294.74,34.16 295,34.3 295.25,34.25 295.51,34.12 295.76,33.89 296.01,33.58 296.26,33.2 296.52,32.76 296.77,32.27 297.02,31.73 297.27,31.18 297.53,30.62 297.78,30.07 298.03,29.53 298.28,29.04 298.54,28.6 298.79,28.22 299.04,27.91 299.29,27.68 299.55,27.55 299.8,27.5 300.05,27.53 300.31,27.61 300.56,27.74 300.81,27.91 301.07,28.12 301.32,28.36 301.57,28.62 301.83,28.88 302.08,29.14 302.33,29.38 302.59,29.59 302.84,29.76 303.09,29.89 303.35,29.97 303.6,30 303.87,29.97 304.13,29.88 304.4,29.75 304.67,29.59 304.93,29.41 305.2,29.25 305.47,29.12 305.73,29.03 306,29 306.25,29 306.5,29.01 306.75,29.03 307,29.06 307.25,29.08 307.5,29.12 307.75,29.15 308,29.18 308.25,29.22 308.5,29.24 308.75,29.27 309,29.29 309.25,29.3 309.5,29.3" fill="none" stroke="#ff4040" stroke-width="1.4" stroke-linejoin="round" />
<polyline points="65.5,108.1 65.75,108.1 66,108.1 66.25,108.1 66.5,108.1 66.75,108.1 67,108.1 67.25,108.1 67.5,108.1 67.75,108.1 68,108.1 68.25,108.1 68.5,108.1 68.75,108.1 69,108.1 69.25,108.1 69.5,108.1 69.75,108.1 70,108.1 70.25,108.1 70.5,108.1 70.75,108.1 71,108.1 71.25,108.1 71.5,108.1 71.75,108.1 72,108.1 72.25,108.1 72.5,108.1 72.75,108.1 73,108.1 73.25,108.1 73.5,108.1 73.75,108.1 74,108.1 74.25,108.1 74.5,108.1 74.75,108.1 75,108.1 75.25,108.1 75.5,108.1 75.75,108.1 76,108.1 76.25,108.1 76.5,108.1 76.75,108.1 77,108.1 77.25,108.1 77.5,108.1 77.75,108.1 78,108.1 78.25,108.1 78.5,108.1 78.75,108.1 79,108.1 79.25,108.1 79.5,108.1 79.75,108.1 80,108.1 80.25,108.1 80.5,108.1 80.75,108.1 81,108.1 81.25,108.1 81.5,108.1 81.75,108.1 82,108.1 82.25,108.1 82.5,108.1 82.75,108.1 83,108.1 83.25,108.1 83.5,108.1 83.75,108.1 84,108.1 84.26,108.09 84.52,108.04 84.78,107.98 85.04,107.89 85.3,107.8 85.56,107.71 85.82,107.62 86.08,107.56 86.34,107.51 86.6,107.5 86.85,107.46 87.11,107.36 87.36,107.19 87.62,106.97 87.87,106.73 88.13,106.47 88.38,106.23 88.64,106.01 88.89,105.84 89.15,105.74 89.4,105.7 89.67,105.96 89.94,106.7 90.21,107.76 90.49,108.94 90.76,110 91.03,110.74 91.3,111 91.55,110.87 91.8,110.49 92.05,109.91 92.3,109.17 92.55,108.35 92.8,107.53 93.05,106.79 93.3,106.21 93.55,105.83 93.8,105.7 94.06,106.11 94.32,107.19 94.58,108.51 94.84,109.59 95.1,110 95.37,109.91 95.64,109.64 95.91,109.26 96.19,108.84 96.46,108.46 96.73,108.19 97,108.1 97.25,108.09 97.5,108.05 97.75,107.98 98,107.9 98.25,107.8 98.5,107.7 98.75,107.6 99,107.5 99.25,107.42 99.5,107.35 99.75,107.31 100,107.3 100.25,107.41 100.5,107.72 100.75,108.15 101,108.58 101.25,108.89 101.5,109 101.75,108.89 102,108.6 102.25,108.2 102.5,107.8 102.75,107.51 103,107.4 103.27,107.49 103.53,107.75 103.8,108.1 104.07,108.45 104.33,108.71 104.6,108.8 104.88,108.73 105.16,108.56 105.44,108.34 105.72,108.17 106,108.1 106.25,108.1 106.5,108.1 106.75,108.1 107,108.1 107.25,108.09 107.5,108.09 107.75,108.09 108,108.08 108.25,108.08 108.5,108.07 108.75,108.07 109,108.06 109.25,108.06 109.5,108.05 109.75,108.04 110,108.04 110.25,108.03 110.5,108.03 110.75,108.02 111,108.02 111.25,108.01 111.5,108.01 111.75,108.01 112,108 112.25,108 112.5,108 112.75,108 113,108 113.26,108.06 113.52,108.23 113.78,108.51 114.04,108.88 114.3,109.33 114.56,109.83 114.82,110.37 115.08,110.93 115.34,111.47 115.6,111.97 115.86,112.42 116.12,112.79 116.38,113.07 116.64,113.24 116.9,113.3 117.16,113.15 117.43,112.71 117.69,112 117.95,111.04 118.21,109.88 118.47,108.55 118.74,107.1 119,105.6 119.26,104.1 119.53,102.65 119.79,101.32 120.05,100.16 120.31,99.2 120.57,98.49 120.84,98.05 121.1,97.9 121.35,98.29 121.6,99.43 121.85,101.25 122.1,103.62 122.35,106.39 122.6,109.35 122.85,112.31 123.1,115.07 123.35,117.45 123.6,119.27 123.85,120.41 124.1,120.8 124.37,120.25 124.64,118.64 124.91,116.14 125.18,112.99 125.45,109.5 125.72,106.01 125.99,102.86 126.26,100.36 126.53,98.75 126.8,98.2 127.05,98.36 127.31,98.82 127.56,99.57 127.81,100.57 128.07,101.78 128.32,103.14 128.57,104.6 128.83,106.1 129.08,107.56 129.33,108.92 129.59,110.13 129.84,111.13 130.09,111.88 130.35,112.34 130.6,112.5 130.86,112.45 131.12,112.31 131.38,112.07 131.64,111.76 131.89,111.37 132.15,110.92 132.41,110.43 132.67,109.91 132.93,109.39 133.19,108.87 133.45,108.38 133.71,107.93 133.96,107.54 134.22,107.23 134.48,106.99 134.74,106.85 135,106.8 135.25,106.81 135.5,106.86 135.75,106.93 136,107.02 136.25,107.13 136.5,107.26 136.75,107.4 137,107.55 137.25,107.7 137.5,107.84 137.75,107.97 138,108.08 138.25,108.17 138.5,108.24 138.75,108.29 139,108.3 139.25,108.3 139.5,108.29 139.75,108.27 140,108.26 140.25,108.23 140.5,108.21 140.75,108.18 141,108.15 141.25,108.12 141.5,108.09 141.75,108.07 142,108.04 142.25,108.03 142.5,108.01 142.75,108 143,108 143.25,107.98 143.5,107.94 143.75,107.88 144,107.8 144.25,107.72 144.5,107.66 144.75,107.62 145,107.6 145.25,107.63 145.5,107.73 145.75,107.88 146,108.05 146.25,108.22 146.5,108.37 146.75,108.47 147,108.5 147.25,108.47 147.5,108.38 147.75,108.25 148,108.1 148.25,107.95 148.5,107.82 148.75,107.73 149,107.7 149.25,107.72 149.5,107.79 149.75,107.89 150,108 150.25,108.11 150.5,108.21 150.75,108.28 151,108.3 151.25,108.29 151.5,108.26 151.75,108.21 152,108.15 152.25,108.09 152.5,108.04 152.75,108.01 153,108 153.25,108 153.5,108 153.75,108 154,108 154.25,108 154.5,108 154.75,108 155,108 155.25,108 155.5,108 155.75,108 156,108 156.25,108 156.5,108 156.75,108 157,108 157.25,108 157.5,108 157.76,108 158.01,108 158.26,108 158.51,108 158.76,108 159.01,108 159.26,108 159.51,108.01 159.76,108.01 160.01,108.01 160.26,108.01 160.51,108.01 160.76,108.01 161.01,108.01 161.26,108.01 161.51,108.01 161.76,108.01 162.01,108.01 162.26,108.01 162.51,108.01 162.76,108.01 163.01,108.01 163.26,108.01 163.51,108.01 163.76,108.01 164.01,108.01 164.26,108.01 164.51,108.02 164.76,108.02 165.01,108.02 165.26,108.02 165.51,108.02 165.76,108.02 166.01,108.02 166.26,108.02 166.51,108.02 166.77,108.02 167.02,108.02 167.27,108.02 167.52,108.02 167.77,108.02 168.02,108.02 168.27,108.03 168.52,108.03 168.77,108.03 169.02,108.03 169.27,108.03 169.52,108.03 169.77,108.03 170.02,108.03 170.27,108.03 170.52,108.03 170.77,108.03 171.02,108.03 171.27,108.04 171.52,108.04 171.77,108.04 172.02,108.04 172.27,108.04 172.52,108.04 172.77,108.04 173.02,108.04 173.27,108.04 173.52,108.04 173.77,108.04 174.02,108.04 174.27,108.05 174.52,108.05 174.77,108.05 175.02,108.05 175.27,108.05 175.52,108.05 175.78,108.05 176.03,108.05 176.28,108.05 176.53,108.05 176.78,108.05 177.03,108.05 177.28,108.06 177.53,108.06 177.78,108.06 178.03,108.06 178.28,108.06 178.53,108.06 178.78,108.06 179.03,108.06 179.28,108.06 179.53,108.06 179.78,108.06 180.03,108.06 180.28,108.07 180.53,108.07 180.78,108.07 181.03,108.07 181.28,108.07 181.53,108.07 181.78,108.07 182.03,108.07 182.28,108.07 182.53,108.07 182.78,108.07 183.03,108.07 183.28,108.08 183.53,108.08 183.78,108.08 184.03,108.08 184.28,108.08 184.53,108.08 184.79,108.08 185.04,108.08 185.29,108.08 185.54,108.08 185.79,108.08 186.04,108.08 186.29,108.08 186.54,108.08 186.79,108.08 187.04,108.09 187.29,108.09 187.54,108.09 187.79,108.09 188.04,108.09 188.29,108.09 188.54,108.09 188.79,108.09 189.04,108.09 189.29,108.09 189.54,108.09 189.79,108.09 190.04,108.09 190.29,108.09 190.54,108.09 190.79,108.09 191.04,108.09 191.29,108.09 191.54,108.09 191.79,108.09 192.04,108.1 192.29,108.1 192.54,108.1 192.79,108.1 193.04,108.1 193.29,108.1 193.54,108.1 193.8,108.1 194.05,108.1 194.3,108.1 194.55,108.1 194.8,108.1 195.05,108.1 195.3,108.1 195.55,108.1 195.8,108.1 196.05,108.1 196.3,108.1 196.55,108.1 196.8,108.1 197.05,108.1 197.3,108.1 197.55,108.1 197.8,108.1 198.05,108.1 198.3,108.1 198.55,108.23 198.8,108.57 199.05,109.05 199.3,109.52 199.55,109.87 199.8,110 200.06,109.81 200.31,109.27 200.57,108.45 200.82,107.44 201.08,106.36 201.33,105.35 201.59,104.53 201.84,103.99 202.1,103.8 202.37,104.09 202.63,104.91 202.9,106.17 203.17,107.73 203.43,109.37 203.7,110.92 203.97,112.19 204.23,113.01 204.5,113.3 204.76,112.97 205.01,112.02 205.27,110.58 205.52,108.8 205.78,106.9 206.03,105.12 206.29,103.68 206.54,102.73 206.8,102.4 207.05,102.69 207.3,103.55 207.55,104.87 207.8,106.55 208.05,108.4 208.3,110.25 208.55,111.93 208.8,113.25 209.05,114.11 209.3,114.4 209.55,114.12 209.81,113.3 210.06,112 210.32,110.34 210.57,108.44 210.83,106.46 211.08,104.56 211.34,102.9 211.59,101.6 211.85,100.78 212.1,100.5 212.36,100.98 212.61,102.35 212.87,104.45 213.12,107.03 213.38,109.77 213.63,112.35 213.89,114.45 214.14,115.82 214.4,116.3 214.65,115.94 214.9,114.89 215.15,113.25 215.4,111.19 215.65,108.9 215.9,106.61 216.15,104.55 216.4,102.91 216.65,101.86 216.9,101.5 217.16,101.74 217.42,102.45 217.68,103.54 217.94,104.92 218.2,106.45 218.46,107.98 218.72,109.36 218.98,110.45 219.24,111.16 219.5,111.4 219.75,111.34 220,111.17 220.25,110.9 220.5,110.53 220.75,110.1 221,109.61 221.25,109.1 221.5,108.59 221.75,108.1 222,107.67 222.25,107.3 222.5,107.03 222.75,106.86 223,106.8 223.28,106.87 223.55,107.08 223.82,107.39 224.1,107.75 224.38,108.11 224.65,108.42 224.92,108.63 225.2,108.7 225.45,108.69 225.71,108.65 225.96,108.6 226.22,108.52 226.47,108.44 226.73,108.36 226.98,108.28 227.24,108.2 227.49,108.15 227.75,108.11 228,108.1 228.25,108.1 228.5,108.1 228.75,108.1 229,108.1 229.25,108.1 229.5,108.1 229.75,108.1 230,108.1 230.25,108.1 230.5,108.1 230.75,108.1 231,108.1 231.25,108.1 231.5,108.1 231.75,108.1 232,108.1 232.25,108.1 232.5,108.1 232.75,108.1 233,108.1 233.25,108.1 233.5,108.1 233.75,108.1 234,108.1 234.25,108.1 234.5,108.1 234.75,108.1 235,108.1 235.25,108.1 235.5,108.1 235.75,108.1 236,108.1 236.25,108.1 236.5,108.1 236.75,108.1 237,108.1 237.25,108.1 237.5,108.1 237.75,108.1 238,108.1 238.25,108.1 238.5,108.1 238.75,108.1 239,108.1 239.25,108.1 239.5,108.1 239.75,108.1 240,108.1 240.25,108.1 240.5,108.1 240.75,108.1 241,108.1 241.25,108.1 241.5,108.1 241.75,108.1 242,108.1 242.25,108.1 242.5,108.1 242.75,108.1 243,108.1 243.25,108.1 243.5,108.1 243.75,108.1 244,108.1 244.25,108.1 244.5,108.1 244.75,108.1 245,108.1 245.25,108.1 245.5,108.1 245.75,108.1 246,108.1 246.25,108.1 246.5,108.1 246.75,108.1 247,108.1 247.25,108.1 247.5,108.1 247.75,108.1 248,108.1 248.25,108.1 248.5,108.1 248.75,108.1 249,108.1 249.25,108.1 249.5,108.1 249.75,108.1 250,108.1 250.25,108.1 250.5,108.1 250.75,108.1 251,108.1 251.25,108.1 251.5,108.1 251.75,108.1 252,108.1 252.25,108.1 252.5,108.1 252.75,108.1 253,108.1 253.25,108.1 253.5,108.1 253.75,108.1 254,108.1 254.28,108.15 254.55,108.31 254.82,108.53 255.1,108.8 255.38,109.07 255.65,109.29 255.92,109.45 256.2,109.5 256.45,109.44 256.71,109.25 256.96,108.96 257.21,108.56 257.47,108.08 257.72,107.53 257.97,106.95 258.23,106.35 258.48,105.77 258.73,105.22 258.99,104.74 259.24,104.34 259.49,104.05 259.75,103.86 260,103.8 260.27,104.12 260.53,105.04 260.8,106.45 261.07,108.18 261.33,110.02 261.6,111.75 261.87,113.16 262.13,114.08 262.4,114.4 262.66,113.95 262.91,112.67 263.17,110.7 263.42,108.28 263.68,105.72 263.93,103.3 264.19,101.33 264.44,100.05 264.7,99.6 264.95,99.9 265.21,100.77 265.46,102.15 265.72,103.93 265.97,105.95 266.23,108.05 266.48,110.07 266.74,111.85 266.99,113.23 267.25,114.1 267.5,114.4 267.75,114.3 268.01,113.99 268.26,113.49 268.51,112.83 268.77,112.03 269.02,111.12 269.27,110.15 269.53,109.15 269.78,108.18 270.03,107.28 270.29,106.47 270.54,105.81 270.79,105.31 271.05,105 271.3,104.9 271.55,104.95 271.81,105.1 272.06,105.34 272.31,105.66 272.57,106.05 272.82,106.49 273.07,106.96 273.33,107.44 273.58,107.91 273.83,108.35 274.09,108.74 274.34,109.06 274.59,109.3 274.85,109.45 275.1,109.5 275.36,109.47 275.63,109.39 275.89,109.26 276.15,109.09 276.42,108.9 276.68,108.7 276.95,108.51 277.21,108.34 277.47,108.21 277.74,108.13 278,108.1 278.25,108.1 278.5,108.1 278.75,108.1 279,108.1 279.25,108.1 279.5,108.1 279.75,108.1 280,108.1 280.25,108.1 280.5,108.1 280.75,108.1 281,108.1 281.25,108.1 281.5,108.1 281.75,108.1 282,108.1 282.25,108.1 282.5,108.1 282.75,108.1 283,108.1 283.26,108.07 283.52,107.98 283.78,107.83 284.04,107.65 284.3,107.45 284.56,107.25 284.82,107.07 285.08,106.92 285.34,106.83 285.6,106.8 285.87,106.9 286.13,107.18 286.4,107.63 286.67,108.22 286.93,108.91 287.2,109.65 287.47,110.39 287.73,111.08 288,111.67 288.27,112.12 288.53,112.4 288.8,112.5 289.05,112.25 289.3,111.54 289.55,110.42 289.8,109.01 290.05,107.45 290.3,105.89 290.55,104.48 290.8,103.36 291.05,102.65 291.3,102.4 291.57,102.77 291.85,103.81 292.12,105.36 292.4,107.2 292.68,109.04 292.95,110.59 293.23,111.63 293.5,112 293.75,111.86 294,111.45 294.25,110.8 294.5,110 294.75,109.1 295,108.2 295.25,107.4 295.5,106.75 295.75,106.34 296,106.2 296.26,106.24 296.53,106.35 296.79,106.53 297.05,106.76 297.32,107.01 297.58,107.29 297.85,107.54 298.11,107.77 298.37,107.95 298.64,108.06 298.9,108.1 299.15,108.1 299.4,108.1 299.66,108.1 299.91,108.1 300.16,108.1 300.41,108.1 300.67,108.1 300.92,108.1 301.17,108.1 301.42,108.1 301.68,108.1 301.93,108.1 302.18,108.1 302.43,108.1 302.69,108.1 302.94,108.1 303.19,108.1 303.44,108.1 303.7,108.1 303.95,108.1 304.2,108.1 304.45,108.1 304.7,108.1 304.96,108.1 305.21,108.1 305.46,108.1 305.71,108.1 305.97,108.1 306.22,108.1 306.47,108.1 306.72,108.1 306.98,108.1 307.23,108.1 307.48,108.1 307.73,108.1 307.99,108.1 308.24,108.1 308.49,108.1 308.74,108.1 309,108.1 309.25,108.1 309.5,108.1" fill="none" stroke="#ff4040" stroke-width="1.4" stroke-linejoin="round" />
<polyline points="65.5,188.7 65.65,188.7 65.8,188.7 65.95,188.7 66.1,188.7 66.25,188.7 66.4,188.7 66.55,188.7 66.7,188.7 66.85,188.7 67,188.7 67.15,188.7 67.3,188.7 67.45,188.7 67.6,188.7 67.75,188.7 67.9,188.7 68.05,188.7 68.2,188.7 68.35,188.7 68.5,188.7 68.65,188.7 68.8,188.7 68.95,188.7 69.1,188.7 69.25,188.7 69.4,188.7 69.55,188.7 69.7,188.7 69.85,188.7 70,188.7 70.15,188.7 70.3,188.7 70.45,188.7 70.6,188.7 70.75,188.7 70.9,188.7 71.05,188.7 71.2,188.7 71.35,188.7 71.5,188.7 71.65,188.7 71.8,188.7 71.95,188.7 72.1,188.7 72.25,188.7 72.4,188.7 72.55,188.7 72.7,188.7 72.85,188.7 73,188.7 73.15,188.7 73.3,188.7 73.45,188.7 73.6,188.7 73.75,188.7 73.9,188.7 74.05,188.7 74.2,188.7 74.35,188.7 74.5,188.7 74.65,188.7 74.8,188.7 74.95,188.7 75.1,188.7 75.25,188.7 75.4,188.7 75.55,188.7 75.7,188.7 75.85,188.7 76,188.7 76.15,188.7 76.3,188.7 76.45,188.7 76.6,188.7 76.75,188.7 76.9,188.7 77.05,188.7 77.2,188.7 77.35,188.7 77.5,188.7 77.65,188.7 77.8,188.7 77.95,188.7 78.1,188.7 78.25,188.7 78.4,188.7 78.55,188.7 78.7,188.7 78.85,188.7 79,188.7 79.15,188.7 79.3,188.7 79.45,188.7 79.6,188.7 79.75,188.7 79.9,188.7 80.05,188.7 80.2,188.7 80.35,188.7 80.5,188.7 80.65,188.7 80.8,188.7 80.95,188.7 81.1,188.7 81.25,188.7 81.4,188.7 81.55,188.7 81.7,188.7 81.85,188.7 82,188.7 82.15,188.7 82.3,188.7 82.45,188.7 82.6,188.7 82.75,188.7 82.9,188.7 83.05,188.7 83.2,188.7 83.35,188.7 83.5,188.7 83.65,188.7 83.8,188.7 83.95,188.7 84.1,188.7 84.25,188.7 84.4,188.7 84.55,188.7 84.7,188.7 84.85,188.7 85,188.7 85.15,188.7 85.3,188.7 85.45,188.7 85.6,188.7 85.75,188.7 85.9,188.7 86.05,188.7 86.2,188.7 86.35,188.7 86.5,188.7 86.65,188.7 86.8,188.7 86.95,188.7 87.1,188.7 87.25,188.7 87.4,188.7 87.55,188.7 87.7,188.7 87.85,188.7 88,188.7 88.15,188.7 88.3,188.7 88.45,188.7 88.6,188.7 88.75,188.7 88.9,188.7 89.05,188.7 89.2,188.7 89.35,188.7 89.5,188.7 89.65,188.7 89.8,188.7 89.95,188.7 90.1,188.7 90.25,188.7 90.4,188.7 90.56,188.6 90.72,188.35 90.88,188.05 91.04,187.8 91.2,187.7 91.36,187.89 91.52,188.39 91.68,189.01 91.84,189.51 92,189.7 92.16,189.53 92.32,189.08 92.48,188.52 92.64,188.07 92.8,187.9 92.96,188.05 93.12,188.45 93.28,188.95 93.44,189.35 93.6,189.5 93.75,189.38 93.9,189.1 94.05,188.82 94.2,188.7 94.35,188.7 94.51,188.7 94.66,188.7 94.81,188.7 94.96,188.7 95.12,188.7 95.27,188.7 95.42,188.7 95.57,188.7 95.73,188.7 95.88,188.7 96.03,188.7 96.18,188.7 96.34,188.7 96.49,188.7 96.64,188.7 96.79,188.7 96.95,188.7 97.1,188.7 97.25,188.7 97.41,188.7 97.56,188.7 97.71,188.7 97.86,188.7 98.02,188.7 98.17,188.7 98.32,188.7 98.47,188.7 98.63,188.7 98.78,188.7 98.93,188.7 99.08,188.7 99.24,188.7 99.39,188.7 99.54,188.7 99.69,188.7 99.85,188.7 100,188.7 100.17,188.67 100.33,188.6 100.5,188.5 100.67,188.4 100.83,188.33 101,188.3 101.17,188.35 101.33,188.5 101.5,188.7 101.67,188.9 101.83,189.05 102,189.1 102.17,189.05 102.33,188.93 102.5,188.75 102.67,188.58 102.83,188.45 103,188.4 103.17,188.43 103.33,188.53 103.5,188.65 103.67,188.78 103.83,188.87 104,188.9 104.17,188.89 104.33,188.85 104.5,188.8 104.67,188.75 104.83,188.71 105,188.7 105.15,188.7 105.3,188.7 105.45,188.7 105.6,188.7 105.75,188.7 105.9,188.7 106.05,188.7 106.2,188.7 106.35,188.7 106.5,188.7 106.65,188.7 106.8,188.7 106.95,188.7 107.1,188.7 107.25,188.7 107.4,188.7 107.55,188.7 107.7,188.7 107.85,188.7 108,188.7 108.15,188.7 108.3,188.7 108.45,188.7 108.6,188.7 108.75,188.7 108.9,188.7 109.05,188.7 109.2,188.7 109.35,188.7 109.5,188.7 109.65,188.7 109.8,188.7 109.95,188.7 110.1,188.7 110.25,188.7 110.4,188.7 110.55,188.7 110.7,188.7 110.85,188.7 111,188.7 111.15,188.7 111.3,188.7 111.45,188.7 111.6,188.7 111.75,188.7 111.9,188.7 112.05,188.7 112.2,188.7 112.35,188.7 112.5,188.7 112.65,188.7 112.8,188.7 112.95,188.7 113.1,188.7 113.25,188.7 113.4,188.7 113.55,188.7 113.7,188.7 113.85,188.7 114,188.7 114.15,188.7 114.3,188.7 114.45,188.7 114.6,188.7 114.75,188.7 114.9,188.7 115.05,188.7 115.2,188.7 115.35,188.7 115.5,188.7 115.65,188.7 115.8,188.7 115.95,188.7 116.1,188.7 116.25,188.7 116.4,188.7 116.55,188.7 116.7,188.7 116.85,188.7 117,188.7 117.16,188.72 117.31,188.79 117.47,188.91 117.63,189.06 117.79,189.26 117.94,189.49 118.1,189.75 118.26,190.03 118.41,190.33 118.57,190.64 118.73,190.96 118.89,191.27 119.04,191.57 119.2,191.85 119.36,192.11 119.51,192.34 119.67,192.54 119.83,192.69 119.99,192.81 120.14,192.88 120.3,192.9 120.45,192.76 120.61,192.36 120.76,191.72 120.91,190.85 121.07,189.8 121.22,188.62 121.37,187.35 121.53,186.05 121.68,184.78 121.83,183.6 121.99,182.55 122.14,181.68 122.29,181.04 122.45,180.64 122.6,180.5 122.75,180.93 122.9,182.19 123.05,184.15 123.2,186.62 123.35,189.35 123.5,192.08 123.65,194.55 123.8,196.51 123.95,197.77 124.1,198.2 124.26,197.67 124.41,196.13 124.57,193.78 124.72,190.89 124.88,187.81 125.03,184.93 125.19,182.57 125.34,181.03 125.5,180.5 125.66,180.73 125.82,181.39 125.97,182.45 126.13,183.82 126.29,185.43 126.45,187.15 126.61,188.87 126.77,190.47 126.93,191.85 127.08,192.91 127.24,193.57 127.4,193.8 127.56,193.76 127.71,193.63 127.87,193.42 128.02,193.13 128.18,192.78 128.33,192.38 128.49,191.92 128.64,191.44 128.8,190.95 128.96,190.46 129.11,189.98 129.27,189.53 129.42,189.12 129.58,188.77 129.73,188.48 129.89,188.27 130.04,188.14 130.2,188.1 130.36,188.1 130.51,188.12 130.67,188.14 130.82,188.17 130.98,188.21 131.13,188.25 131.29,188.3 131.44,188.35 131.6,188.4 131.76,188.45 131.91,188.5 132.07,188.55 132.22,188.59 132.38,188.63 132.53,188.66 132.69,188.68 132.84,188.7 133,188.7 133.15,188.7 133.3,188.7 133.45,188.7 133.6,188.7 133.75,188.7 133.9,188.7 134.05,188.7 134.2,188.7 134.35,188.7 134.5,188.7 134.65,188.7 134.8,188.7 134.95,188.7 135.1,188.7 135.25,188.7 135.4,188.7 135.55,188.7 135.7,188.7 135.85,188.7 136,188.7 136.15,188.7 136.3,188.7 136.46,188.7 136.61,188.7 136.76,188.7 136.91,188.7 137.06,188.7 137.21,188.7 137.36,188.7 137.51,188.7 137.66,188.7 137.81,188.7 137.96,188.7 138.11,188.7 138.26,188.7 138.41,188.7 138.56,188.7 138.71,188.7 138.86,188.7 139.01,188.7 139.16,188.7 139.31,188.7 139.46,188.7 139.61,188.7 139.76,188.7 139.91,188.7 140.06,188.7 140.21,188.7 140.36,188.7 140.51,188.7 140.66,188.7 140.81,188.7 140.96,188.7 141.11,188.7 141.26,188.7 141.41,188.7 141.56,188.7 141.71,188.7 141.86,188.7 142.01,188.7 142.16,188.7 142.31,188.7 142.46,188.7 142.61,188.7 142.76,188.7 142.91,188.7 143.07,188.7 143.22,188.7 143.37,188.7 143.52,188.7 143.67,188.7 143.82,188.7 143.97,188.7 144.12,188.7 144.27,188.7 144.42,188.7 144.57,188.7 144.72,188.7 144.87,188.7 145.02,188.7 145.17,188.7 145.32,188.7 145.47,188.7 145.62,188.7 145.77,188.7 145.92,188.7 146.07,188.7 146.22,188.7 146.37,188.7 146.52,188.7 146.67,188.7 146.82,188.7 146.97,188.7 147.12,188.7 147.27,188.7 147.42,188.7 147.57,188.7 147.72,188.7 147.87,188.7 148.02,188.7 148.17,188.7 148.32,188.7 148.47,188.7 148.62,188.7 148.77,188.7 148.92,188.7 149.07,188.7 149.22,188.7 149.37,188.7 149.52,188.7 149.67,188.7 149.83,188.7 149.98,188.7 150.13,188.7 150.28,188.7 150.43,188.7 150.58,188.7 150.73,188.7 150.88,188.7 151.03,188.7 151.18,188.7 151.33,188.7 151.48,188.7 151.63,188.7 151.78,188.7 151.93,188.7 152.08,188.7 152.23,188.7 152.38,188.7 152.53,188.7 152.68,188.7 152.83,188.7 152.98,188.7 153.13,188.7 153.28,188.7 153.43,188.7 153.58,188.7 153.73,188.7 153.88,188.7 154.03,188.7 154.18,188.7 154.33,188.7 154.48,188.7 154.63,188.7 154.78,188.7 154.93,188.7 155.08,188.7 155.23,188.7 155.38,188.7 155.53,188.7 155.68,188.7 155.83,188.7 155.98,188.7 156.13,188.7 156.28,188.7 156.43,188.7 156.59,188.7 156.74,188.7 156.89,188.7 157.04,188.7 157.19,188.7 157.34,188.7 157.49,188.7 157.64,188.7 157.79,188.7 157.94,188.7 158.09,188.7 158.24,188.7 158.39,188.7 158.54,188.7 158.69,188.7 158.84,188.7 158.99,188.7 159.14,188.7 159.29,188.7 159.44,188.7 159.59,188.7 159.74,188.7 159.89,188.7 160.04,188.7 160.19,188.7 160.34,188.7 160.49,188.7 160.64,188.7 160.79,188.7 160.94,188.7 161.09,188.7 161.24,188.7 161.39,188.7 161.54,188.7 161.69,188.7 161.84,188.7 161.99,188.7 162.14,188.7 162.29,188.7 162.44,188.7 162.59,188.7 162.74,188.7 162.89,188.7 163.04,188.7 163.2,188.7 163.35,188.7 163.5,188.7 163.65,188.7 163.8,188.7 163.95,188.7 164.1,188.7 164.25,188.7 164.4,188.7 164.55,188.7 164.7,188.7 164.85,188.7 165,188.7 165.15,188.7 165.3,188.7 165.45,188.7 165.6,188.7 165.75,188.7 165.9,188.7 166.05,188.7 166.2,188.7 166.35,188.7 166.5,188.7 166.65,188.7 166.8,188.7 166.95,188.7 167.1,188.7 167.25,188.7 167.4,188.7 167.55,188.7 167.7,188.7 167.85,188.7 168,188.7 168.15,188.7 168.3,188.7 168.45,188.7 168.6,188.7 168.75,188.7 168.9,188.7 169.05,188.7 169.2,188.7 169.35,188.7 169.5,188.7 169.65,188.7 169.8,188.7 169.96,188.7 170.11,188.7 170.26,188.7 170.41,188.7 170.56,188.7 170.71,188.7 170.86,188.7 171.01,188.7 171.16,188.7 171.31,188.7 171.46,188.7 171.61,188.7 171.76,188.7 171.91,188.7 172.06,188.7 172.21,188.7 172.36,188.7 172.51,188.7 172.66,188.7 172.81,188.7 172.96,188.7 173.11,188.7 173.26,188.7 173.41,188.7 173.56,188.7 173.71,188.7 173.86,188.7 174.01,188.7 174.16,188.7 174.31,188.7 174.46,188.7 174.61,188.7 174.76,188.7 174.91,188.7 175.06,188.7 175.21,188.7 175.36,188.7 175.51,188.7 175.66,188.7 175.81,188.7 175.96,188.7 176.11,188.7 176.26,188.7 176.41,188.7 176.57,188.7 176.72,188.7 176.87,188.7 177.02,188.7 177.17,188.7 177.32,188.7 177.47,188.7 177.62,188.7 177.77,188.7 177.92,188.7 178.07,188.7 178.22,188.7 178.37,188.7 178.52,188.7 178.67,188.7 178.82,188.7 178.97,188.7 179.12,188.7 179.27,188.7 179.42,188.7 179.57,188.7 179.72,188.7 179.87,188.7 180.02,188.7 180.17,188.7 180.32,188.7 180.47,188.7 180.62,188.7 180.77,188.7 180.92,188.7 181.07,188.7 181.22,188.7 181.37,188.7 181.52,188.7 181.67,188.7 181.82,188.7 181.97,188.7 182.12,188.7 182.27,188.7 182.42,188.7 182.57,188.7 182.72,188.7 182.87,188.7 183.02,188.7 183.17,188.7 183.33,188.7 183.48,188.7 183.63,188.7 183.78,188.7 183.93,188.7 184.08,188.7 184.23,188.7 184.38,188.7 184.53,188.7 184.68,188.7 184.83,188.7 184.98,188.7 185.13,188.7 185.28,188.7 185.43,188.7 185.58,188.7 185.73,188.7 185.88,188.7 186.03,188.7 186.18,188.7 186.33,188.7 186.48,188.7 186.63,188.7 186.78,188.7 186.93,188.7 187.08,188.7 187.23,188.7 187.38,188.7 187.53,188.7 187.68,188.7 187.83,188.7 187.98,188.7 188.13,188.7 188.28,188.7 188.43,188.7 188.58,188.7 188.73,188.7 188.88,188.7 189.03,188.7 189.18,188.7 189.33,188.7 189.48,188.7 189.63,188.7 189.78,188.7 189.93,188.7 190.09,188.7 190.24,188.7 190.39,188.7 190.54,188.7 190.69,188.7 190.84,188.7 190.99,188.7 191.14,188.7 191.29,188.7 191.44,188.7 191.59,188.7 191.74,188.7 191.89,188.7 192.04,188.7 192.19,188.7 192.34,188.7 192.49,188.7 192.64,188.7 192.79,188.7 192.94,188.7 193.09,188.7 193.24,188.7 193.39,188.7 193.54,188.7 193.69,188.7 193.84,188.7 193.99,188.7 194.14,188.7 194.29,188.7 194.44,188.7 194.59,188.7 194.74,188.7 194.89,188.7 195.04,188.7 195.19,188.7 195.34,188.7 195.49,188.7 195.64,188.7 195.79,188.7 195.94,188.7 196.09,188.7 196.24,188.7 196.39,188.7 196.54,188.7 196.7,188.7 196.85,188.7 197,188.7 197.15,188.7 197.3,188.7 197.45,188.7 197.6,188.7 197.75,188.7 197.9,188.7 198.05,188.7 198.2,188.7 198.35,188.7 198.5,188.7 198.65,188.7 198.8,188.7 198.95,188.7 199.1,188.7 199.25,188.7 199.4,188.7 199.55,188.7 199.7,188.7 199.85,188.7 200,188.7 200.16,188.65 200.32,188.51 200.48,188.27 200.65,187.97 200.81,187.6 200.97,187.2 201.13,186.8 201.29,186.4 201.45,186.03 201.62,185.73 201.78,185.49 201.94,185.35 202.1,185.3 202.26,185.5 202.41,186.07 202.57,186.95 202.72,188.03 202.88,189.17 203.03,190.25 203.19,191.13 203.34,191.7 203.5,191.9 203.66,191.31 203.82,189.76 203.98,187.84 204.14,186.29 204.3,185.7 204.46,185.83 204.62,186.21 204.78,186.79 204.94,187.53 205.1,188.35 205.26,189.17 205.42,189.91 205.58,190.49 205.74,190.87 205.9,191 206.06,190.89 206.21,190.57 206.37,190.11 206.53,189.59 206.69,189.13 206.84,188.81 207,188.7 207.15,188.71 207.3,188.76 207.45,188.82 207.6,188.91 207.75,189 207.9,189.09 208.05,189.18 208.2,189.24 208.35,189.29 208.5,189.3 208.65,189.28 208.8,189.2 208.95,189.09 209.1,188.95 209.25,188.8 209.4,188.65 209.55,188.51 209.7,188.4 209.85,188.32 210,188.3 210.16,188.31 210.32,188.34 210.48,188.38 210.64,188.44 210.8,188.5 210.96,188.56 211.12,188.62 211.28,188.66 211.44,188.69 211.6,188.7 211.75,188.5 211.9,187.95 212.05,187.2 212.2,186.45 212.35,185.9 212.5,185.7 212.67,186.09 212.83,187.15 213,188.6 213.17,190.05 213.33,191.11 213.5,191.5 213.65,190.98 213.8,189.58 213.95,187.65 214.1,185.73 214.25,184.32 214.4,183.8 214.6,186.55 214.8,192.05 215,194.8 215.16,194.5 215.32,193.66 215.49,192.39 215.65,190.9 215.81,189.41 215.98,188.14 216.14,187.3 216.3,187 216.46,187.14 216.62,187.54 216.79,188.14 216.95,188.85 217.11,189.56 217.28,190.16 217.44,190.56 217.6,190.7 217.76,190.65 217.92,190.51 218.08,190.29 218.24,190.01 218.4,189.7 218.56,189.39 218.72,189.11 218.88,188.89 219.04,188.75 219.2,188.7 219.35,188.7 219.5,188.7 219.65,188.7 219.8,188.7 219.95,188.7 220.1,188.7 220.25,188.7 220.4,188.7 220.55,188.7 220.71,188.7 220.86,188.7 221.01,188.7 221.16,188.7 221.31,188.7 221.46,188.7 221.61,188.7 221.76,188.7 221.91,188.7 222.06,188.7 222.21,188.7 222.36,188.7 222.51,188.7 222.66,188.7 222.81,188.7 222.96,188.7 223.11,188.7 223.26,188.7 223.42,188.7 223.57,188.7 223.72,188.7 223.87,188.7 224.02,188.7 224.17,188.7 224.32,188.7 224.47,188.7 224.62,188.7 224.77,188.7 224.92,188.7 225.07,188.7 225.22,188.7 225.37,188.7 225.52,188.7 225.67,188.7 225.82,188.7 225.97,188.7 226.12,188.7 226.28,188.7 226.43,188.7 226.58,188.7 226.73,188.7 226.88,188.7 227.03,188.7 227.18,188.7 227.33,188.7 227.48,188.7 227.63,188.7 227.78,188.7 227.93,188.7 228.08,188.7 228.23,188.7 228.38,188.7 228.53,188.7 228.68,188.7 228.83,188.7 228.99,188.7 229.14,188.7 229.29,188.7 229.44,188.7 229.59,188.7 229.74,188.7 229.89,188.7 230.04,188.7 230.19,188.7 230.34,188.7 230.49,188.7 230.64,188.7 230.79,188.7 230.94,188.7 231.09,188.7 231.24,188.7 231.39,188.7 231.54,188.7 231.69,188.7 231.85,188.7 232,188.7 232.15,188.7 232.3,188.7 232.45,188.7 232.6,188.7 232.75,188.7 232.9,188.7 233.05,188.7 233.2,188.7 233.35,188.7 233.5,188.7 233.65,188.7 233.8,188.7 233.95,188.7 234.1,188.7 234.25,188.7 234.4,188.7 234.56,188.7 234.71,188.7 234.86,188.7 235.01,188.7 235.16,188.7 235.31,188.7 235.46,188.7 235.61,188.7 235.76,188.7 235.91,188.7 236.06,188.7 236.21,188.7 236.36,188.7 236.51,188.7 236.66,188.7 236.81,188.7 236.96,188.7 237.11,188.7 237.26,188.7 237.42,188.7 237.57,188.7 237.72,188.7 237.87,188.7 238.02,188.7 238.17,188.7 238.32,188.7 238.47,188.7 238.62,188.7 238.77,188.7 238.92,188.7 239.07,188.7 239.22,188.7 239.37,188.7 239.52,188.7 239.67,188.7 239.82,188.7 239.97,188.7 240.13,188.7 240.28,188.7 240.43,188.7 240.58,188.7 240.73,188.7 240.88,188.7 241.03,188.7 241.18,188.7 241.33,188.7 241.48,188.7 241.63,188.7 241.78,188.7 241.93,188.7 242.08,188.7 242.23,188.7 242.38,188.7 242.53,188.7 242.68,188.7 242.84,188.7 242.99,188.7 243.14,188.7 243.29,188.7 243.44,188.7 243.59,188.7 243.74,188.7 243.89,188.7 244.04,188.7 244.19,188.7 244.34,188.7 244.49,188.7 244.64,188.7 244.79,188.7 244.94,188.7 245.09,188.7 245.24,188.7 245.39,188.7 245.54,188.7 245.7,188.7 245.85,188.7 246,188.7 246.15,188.7 246.3,188.7 246.45,188.7 246.6,188.7 246.75,188.7 246.9,188.7 247.05,188.7 247.2,188.7 247.35,188.7 247.5,188.7 247.65,188.7 247.8,188.7 247.95,188.7 248.1,188.7 248.25,188.7 248.41,188.7 248.56,188.7 248.71,188.7 248.86,188.7 249.01,188.7 249.16,188.7 249.31,188.7 249.46,188.7 249.61,188.7 249.76,188.7 249.91,188.7 250.06,188.7 250.21,188.7 250.36,188.7 250.51,188.7 250.66,188.7 250.81,188.7 250.96,188.7 251.11,188.7 251.27,188.7 251.42,188.7 251.57,188.7 251.72,188.7 251.87,188.7 252.02,188.7 252.17,188.7 252.32,188.7 252.47,188.7 252.62,188.7 252.77,188.7 252.92,188.7 253.07,188.7 253.22,188.7 253.37,188.7 253.52,188.7 253.67,188.7 253.82,188.7 253.98,188.7 254.13,188.7 254.28,188.7 254.43,188.7 254.58,188.7 254.73,188.7 254.88,188.7 255.03,188.7 255.18,188.7 255.33,188.7 255.48,188.7 255.63,188.7 255.78,188.7 255.93,188.7 256.08,188.7 256.23,188.7 256.38,188.7 256.53,188.7 256.68,188.7 256.84,188.7 256.99,188.7 257.14,188.7 257.29,188.7 257.44,188.7 257.59,188.7 257.74,188.7 257.89,188.7 258.04,188.7 258.19,188.7 258.34,188.7 258.49,188.7 258.64,188.7 258.79,188.7 258.94,188.7 259.09,188.7 259.24,188.7 259.39,188.7 259.55,188.7 259.7,188.7 259.85,188.7 260,188.7 260.15,188.7 260.3,188.7 260.45,188.7 260.6,188.7 260.75,188.7 260.9,188.7 261.05,188.67 261.21,188.59 261.36,188.46 261.51,188.29 261.67,188.07 261.82,187.84 261.97,187.58 262.13,187.32 262.28,187.06 262.43,186.82 262.59,186.61 262.74,186.44 262.89,186.31 263.05,186.23 263.2,186.2 263.36,186.53 263.51,187.46 263.67,188.8 263.83,190.3 263.99,191.64 264.14,192.57 264.3,192.9 264.47,192.24 264.63,190.43 264.8,187.95 264.97,185.47 265.13,183.66 265.3,183 265.48,184.03 265.66,186.73 265.84,190.07 266.02,192.77 266.2,193.8 266.36,193.2 266.52,191.62 266.68,189.68 266.84,188.1 267,187.5 267.15,187.57 267.3,187.79 267.45,188.12 267.6,188.54 267.75,189 267.9,189.46 268.05,189.88 268.2,190.21 268.35,190.43 268.5,190.5 268.65,190.46 268.8,190.33 268.95,190.13 269.1,189.88 269.25,189.6 269.4,189.32 269.55,189.07 269.7,188.87 269.85,188.74 270,188.7 270.15,188.7 270.3,188.7 270.45,188.7 270.6,188.7 270.75,188.7 270.9,188.7 271.05,188.7 271.2,188.7 271.35,188.7 271.5,188.7 271.65,188.7 271.81,188.7 271.96,188.7 272.11,188.7 272.26,188.7 272.41,188.7 272.56,188.7 272.71,188.7 272.86,188.7 273.01,188.7 273.16,188.7 273.31,188.7 273.46,188.7 273.61,188.7 273.76,188.7 273.91,188.7 274.06,188.7 274.21,188.7 274.36,188.7 274.51,188.7 274.66,188.7 274.81,188.7 274.96,188.7 275.12,188.7 275.27,188.7 275.42,188.7 275.57,188.7 275.72,188.7 275.87,188.7 276.02,188.7 276.17,188.7 276.32,188.7 276.47,188.7 276.62,188.7 276.77,188.7 276.92,188.7 277.07,188.7 277.22,188.7 277.37,188.7 277.52,188.7 277.67,188.7 277.82,188.7 277.97,188.7 278.12,188.7 278.27,188.7 278.42,188.7 278.58,188.7 278.73,188.7 278.88,188.7 279.03,188.7 279.18,188.7 279.33,188.7 279.48,188.7 279.63,188.7 279.78,188.7 279.93,188.7 280.08,188.7 280.23,188.7 280.38,188.7 280.53,188.7 280.68,188.7 280.83,188.7 280.98,188.7 281.13,188.7 281.28,188.7 281.43,188.7 281.58,188.7 281.73,188.7 281.88,188.7 282.04,188.7 282.19,188.7 282.34,188.7 282.49,188.7 282.64,188.7 282.79,188.7 282.94,188.7 283.09,188.7 283.24,188.7 283.39,188.7 283.54,188.7 283.69,188.7 283.84,188.7 283.99,188.7 284.14,188.7 284.29,188.7 284.44,188.7 284.59,188.7 284.74,188.7 284.89,188.7 285.04,188.7 285.19,188.7 285.35,188.7 285.5,188.7 285.65,188.7 285.8,188.7 285.95,188.7 286.1,188.7 286.25,188.7 286.4,188.7 286.55,188.7 286.7,188.7 286.85,188.7 287,188.7 287.15,188.68 287.3,188.64 287.45,188.56 287.6,188.46 287.75,188.33 287.9,188.18 288.05,188.01 288.2,187.82 288.35,187.62 288.5,187.41 288.65,187.2 288.8,186.99 288.95,186.78 289.1,186.58 289.25,186.39 289.4,186.22 289.55,186.07 289.7,185.94 289.85,185.84 290,185.76 290.15,185.72 290.3,185.7 290.47,186.08 290.63,187.12 290.8,188.55 290.97,189.97 291.13,191.02 291.3,191.4 291.48,190.82 291.66,189.29 291.84,187.41 292.02,185.88 292.2,185.3 292.37,185.68 292.53,186.72 292.7,188.15 292.87,189.57 293.03,190.62 293.2,191 293.35,190.85 293.5,190.43 293.65,189.85 293.8,189.28 293.95,188.85 294.1,188.7 294.25,188.7 294.4,188.7 294.55,188.7 294.7,188.7 294.85,188.7 295.01,188.7 295.16,188.7 295.31,188.7 295.46,188.7 295.61,188.7 295.76,188.7 295.91,188.7 296.06,188.7 296.21,188.7 296.36,188.7 296.52,188.7 296.67,188.7 296.82,188.7 296.97,188.7 297.12,188.7 297.27,188.7 297.42,188.7 297.57,188.7 297.72,188.7 297.87,188.7 298.03,188.7 298.18,188.7 298.33,188.7 298.48,188.7 298.63,188.7 298.78,188.7 298.93,188.7 299.08,188.7 299.23,188.7 299.38,188.7 299.54,188.7 299.69,188.7 299.84,188.7 299.99,188.7 300.14,188.7 300.29,188.7 300.44,188.7 300.59,188.7 300.74,188.7 300.89,188.7 301.05,188.7 301.2,188.7 301.35,188.7 301.5,188.7 301.65,188.7 301.8,188.7 301.95,188.7 302.1,188.7 302.25,188.7 302.4,188.7 302.55,188.7 302.71,188.7 302.86,188.7 303.01,188.7 303.16,188.7 303.31,188.7 303.46,188.7 303.61,188.7 303.76,188.7 303.91,188.7 304.06,188.7 304.22,188.7 304.37,188.7 304.52,188.7 304.67,188.7 304.82,188.7 304.97,188.7 305.12,188.7 305.27,188.7 305.42,188.7 305.57,188.7 305.73,188.7 305.88,188.7 306.03,188.7 306.18,188.7 306.33,188.7 306.48,188.7 306.63,188.7 306.78,188.7 306.93,188.7 307.08,188.7 307.24,188.7 307.39,188.7 307.54,188.7 307.69,188.7 307.84,188.7 307.99,188.7 308.14,188.7 308.29,188.7 308.44,188.7 308.59,188.7 308.75,188.7 308.9,188.7 309.05,188.7 309.2,188.7 309.35,188.7 309.5,188.7" fill="none" stroke="#ff4040" stroke-width="1.4" stroke-linejoin="round" />
<polyline points="387.5,37.36 387.8,37.36 388.1,37.35 388.4,37.34 388.7,37.33 389,37.31 389.3,37.29 389.6,37.26 389.9,37.24 390.2,37.21 390.47,37.18 390.5,37.17 390.8,37.11 391.1,36.99 391.4,36.84 391.7,36.66 392,36.45 392.3,36.22 392.6,35.99 392.9,35.76 393.2,35.54 393.21,35.53 393.5,35.3 393.8,35 394.1,34.67 394.4,34.31 394.7,33.96 395,33.62 395.3,33.32 395.6,33.07 395.9,32.89 396.2,32.8 396.31,32.8 396.5,32.83 396.8,33 397.1,33.29 397.4,33.67 397.7,34.11 398,34.57 398.3,35.02 398.6,35.43 398.69,35.53 398.9,35.81 399.2,36.27 399.5,36.75 399.8,37.18 400.1,37.52 400.4,37.71 400.51,37.72 400.7,37.71 401,37.66 401.3,37.58 401.6,37.49 401.9,37.41 402.2,37.36 402.34,37.36 402.5,37.4 402.8,37.65 403.1,38.05 403.4,38.5 403.7,38.89 404,39.14 404.16,39.18 404.3,39.17 404.6,39.09 404.9,38.93 405.2,38.71 405.5,38.44 405.8,38.13 406.1,37.8 406.4,37.44 406.7,37.08 407,36.73 407.3,36.39 407.6,36.09 407.81,35.9 407.9,35.82 408.2,35.55 408.5,35.25 408.8,34.94 409.1,34.62 409.4,34.3 409.7,33.99 410,33.68 410.3,33.39 410.6,33.12 410.9,32.87 411.2,32.66 411.5,32.48 411.8,32.35 412.1,32.27 412.37,32.25 412.4,32.25 412.7,32.28 413,32.37 413.3,32.49 413.6,32.63 413.9,32.78 414.2,32.93 414.5,33.05 414.8,33.13 415.1,33.16 415.11,33.16 415.4,33.14 415.7,33.09 416,33.02 416.3,32.92 416.6,32.8 416.9,32.67 417.2,32.54 417.5,32.4 417.8,32.27 417.85,32.25 418.1,32.13 418.4,31.94 418.7,31.73 419,31.5 419.3,31.26 419.6,31.02 419.9,30.78 420.2,30.57 420.5,30.38 420.8,30.22 421.1,30.11 421.4,30.06 421.5,30.06 421.7,30.06 422,30.07 422.3,30.09 422.6,30.12 422.9,30.16 423.2,30.21 423.5,30.26 423.8,30.32 424.1,30.39 424.23,30.42 424.4,30.48 424.7,30.67 425,30.94 425.3,31.28 425.6,31.68 425.9,32.11 426.2,32.56 426.5,33.01 426.61,33.16 426.8,33.49 427.1,34.13 427.4,34.88 427.7,35.65 428,36.36 428.3,36.94 428.6,37.29 428.8,37.36 428.9,37.36 429.2,37.36 429.5,37.36 429.8,37.36 430.1,37.36 430.4,37.36 430.7,37.36 431,37.36 431.3,37.36 431.6,37.36 431.9,37.36 432.2,37.36 432.45,37.36 432.5,37.36 432.8,37.35 433.1,37.33 433.4,37.31 433.7,37.28 434,37.24 434.3,37.2 434.6,37.16 434.9,37.12 435.2,37.08 435.5,37.05 435.8,37.02 436.09,36.99 436.1,36.99 436.4,36.97 436.7,36.96 437,36.94 437.3,36.93 437.6,36.92 437.9,36.91 438.2,36.9 438.5,36.88 438.8,36.87 439.1,36.85 439.4,36.84 439.7,36.81 439.74,36.81 440,36.78 440.3,36.74 440.6,36.68 440.9,36.61 441.2,36.53 441.5,36.44 441.8,36.34 442.1,36.24 442.4,36.14 442.7,36.05 443,35.95 443.3,35.86 443.6,35.78 443.9,35.7 444.2,35.64 444.5,35.59 444.8,35.55 445.1,35.53 445.22,35.53 445.4,35.54 445.7,35.58 446,35.65 446.3,35.75 446.6,35.86 446.9,35.99 447.2,36.12 447.5,36.25 447.8,36.37 448.1,36.47 448.4,36.56 448.7,36.61 448.87,36.63 449,36.64 449.3,36.65 449.6,36.67 449.9,36.68 450.2,36.69 450.5,36.7 450.8,36.71 451.1,36.71 451.4,36.72 451.7,36.73 452,36.73 452.3,36.74 452.6,36.74 452.9,36.75 453.2,36.76 453.5,36.77 453.8,36.78 454.1,36.8 454.34,36.81 454.4,36.81 454.7,36.84 455,36.88 455.3,36.93 455.6,36.99 455.9,37.05 456.2,37.12 456.5,37.18 456.8,37.24 457.1,37.28 457.4,37.32 457.7,37.35 457.99,37.36 458,37.36 458.3,37.36 458.6,37.36 458.9,37.36 459.2,37.36 459.5,37.36 459.8,37.36 460.1,37.36 460.4,37.36 460.7,37.36 461,37.36 461.3,37.36 461.6,37.36 461.64,37.36 461.9,37.38 462.2,37.44 462.5,37.52 462.8,37.61 463.1,37.68 463.4,37.72 463.47,37.72 463.7,37.7 464,37.61 464.3,37.47 464.6,37.27 464.9,37.04 465.2,36.78 465.5,36.49 465.8,36.19 466.1,35.89 466.4,35.6 466.7,35.32 467,35.07 467.12,34.99 467.3,34.85 467.6,34.6 467.9,34.33 468.2,34.05 468.5,33.77 468.8,33.48 469.1,33.2 469.4,32.92 469.7,32.66 470,32.42 470.3,32.21 470.6,32.02 470.9,31.87 471.2,31.77 471.5,31.71 471.68,31.7 471.8,31.71 472.1,31.79 472.4,31.95 472.7,32.18 473,32.46 473.3,32.77 473.6,33.12 473.9,33.47 474.2,33.83 474.42,34.07 474.5,34.18 474.8,34.65 475.1,35.24 475.4,35.84 475.7,36.36 476,36.71 476.24,36.81 476.3,36.81 476.6,36.71 476.9,36.49 477.2,36.22 477.5,35.94 477.8,35.69 478.07,35.53 478.1,35.52 478.4,35.39 478.7,35.27 479,35.16 479.3,35.07 479.6,35.01 479.89,34.99 479.9,34.99 480.2,35.26 480.5,35.93 480.8,36.8 481.1,37.67 481.4,38.35 481.7,38.63 481.72,38.64 482,38.6 482.3,38.49 482.6,38.32 482.9,38.12 483.2,37.92 483.5,37.71 483.8,37.54 484.1,37.42 484.4,37.36 484.45,37.36 484.7,37.47 485,37.83 485.3,38.34 485.6,38.87 485.9,39.31 486.2,39.54 486.28,39.55 486.5,39.49 486.8,39.24 487.1,38.85 487.4,38.35 487.7,37.77 488,37.18 488.3,36.6 488.6,36.08 488.9,35.66 489.01,35.53 489.2,35.35 489.5,35.04 489.8,34.74 490.1,34.44 490.4,34.14 490.7,33.85 491,33.58 491.3,33.32 491.6,33.08 491.9,32.87 492.2,32.68 492.5,32.52 492.8,32.39 493.1,32.3 493.4,32.26 493.58,32.25 493.7,32.27 494,32.45 494.3,32.81 494.6,33.3 494.9,33.89 495.2,34.53 495.5,35.21 495.8,35.87 496.1,36.48 496.4,37.01 496.7,37.41 497,37.66 497.23,37.72 497.3,37.72 497.6,37.68 497.9,37.58 498.2,37.46 498.5,37.31 498.8,37.16 499.1,37.03 499.4,36.91 499.7,36.83 499.96,36.81 500,36.81 500.3,36.86 500.6,36.98 500.9,37.16 501.2,37.39 501.5,37.64 501.8,37.9 502.1,38.17 502.4,38.41 502.7,38.63 502.7,38.64 503,38.82 503.3,38.98 503.6,39.13 503.9,39.27 504.2,39.43 504.5,39.61 504.8,39.83 505.1,40.09 505.4,40.41 505.44,40.46 505.49,40.57 505.7,40.56 506,40.53 506.3,40.48 506.6,40.41 506.9,40.33 507.2,40.23 507.5,40.12 507.8,39.99 508.1,39.86 508.4,39.72 508.7,39.58 509,39.43 509.3,39.29 509.6,39.14 509.9,39 510.2,38.87 510.5,38.74 510.69,38.67 510.8,38.63 511.1,38.51 511.4,38.39 511.7,38.26 512,38.14 512.3,38.01 512.6,37.88 512.9,37.75 513.2,37.62 513.5,37.49 513.8,37.36 514.1,37.23 514.4,37.11 514.7,36.99 515,36.87 515.3,36.76 515.6,36.65 515.9,36.54 516.2,36.45 516.39,36.39 516.5,36.36 516.8,36.27 517.1,36.18 517.4,36.09 517.7,36 518,35.92 518.3,35.84 518.6,35.76 518.9,35.68 519.2,35.61 519.5,35.54 519.8,35.47 520.1,35.41 520.4,35.36 520.7,35.31 521,35.27 521.13,35.25 521.3,35.23 521.6,35.2 521.9,35.16 522.2,35.13 522.5,35.09 522.8,35.06 523.1,35.03 523.4,35 523.7,34.97 524,34.95 524.3,34.93 524.6,34.91 524.9,34.9 525.2,34.88 525.5,34.88 525.8,34.87 525.87,34.87 526.1,34.88 526.4,34.92 526.7,34.99 527,35.07 527.3,35.17 527.6,35.28 527.9,35.4 528.2,35.51 528.5,35.61 528.8,35.7 529.1,35.76 529.4,35.81 529.67,35.82 529.7,35.82 530,35.81 530.3,35.8 530.6,35.77 530.9,35.74 531.2,35.69 531.5,35.64 531.8,35.59 532.1,35.53 532.4,35.47 532.7,35.41 533,35.34 533.3,35.28 533.6,35.22 533.9,35.16 534.2,35.1 534.5,35.05 534.8,35 535.1,34.96 535.4,34.92 535.7,34.9 536,34.88 536.3,34.87 536.31,34.87 536.6,34.89 536.9,34.93 537.2,34.99 537.5,35.08 537.8,35.18 538.1,35.29 538.4,35.42 538.7,35.55 539,35.68 539.3,35.81 539.6,35.94 539.9,36.06 540.2,36.17 540.5,36.27 540.8,36.34 541.05,36.39 541.1,36.4 541.4,36.44 541.7,36.49 542,36.52 542.3,36.56 542.6,36.59 542.9,36.63 543.2,36.66 543.5,36.68 543.8,36.71 544.1,36.73 544.4,36.76 544.7,36.78 545,36.8 545.3,36.83 545.6,36.85 545.9,36.87 546.2,36.9 546.5,36.92 546.8,36.95 547.1,36.98 547.4,37 547.7,37.04 548,37.07 548.3,37.11 548.6,37.14 548.64,37.15 548.9,37.19 549.2,37.23 549.5,37.28 549.8,37.33 550.1,37.38 550.4,37.43 550.7,37.49 551,37.54 551.3,37.6 551.6,37.66 551.9,37.73 552.2,37.79 552.5,37.86 552.8,37.93 553.1,37.99 553.4,38.06 553.7,38.13 554,38.21 554.3,38.28 554.34,38.29 554.6,38.37 554.9,38.48 555.2,38.59 555.5,38.66 555.66,38.67 555.8,37.85 556.1,33.77 556.23,32.98 556.4,34.55 556.7,39.91 556.8,40.57 557,40.53 557.3,40.38 557.6,40.13 557.9,39.8 558.2,39.43 558.5,39.03 558.8,38.64 559.1,38.29 559.4,38 559.7,37.8 560,37.72 560.03,37.72 560.3,37.77 560.6,37.93 560.9,38.14 561.2,38.36 561.5,38.55 561.8,38.66 561.93,38.67 562.1,38.66 562.4,38.6 562.7,38.5 563,38.37 563.3,38.22 563.6,38.04 563.9,37.86 564.2,37.69 564.5,37.52 564.8,37.37 565.1,37.26 565.4,37.18 565.7,37.15 565.72,37.15 566,37.18 566.3,37.27 566.6,37.41 566.9,37.57 567.2,37.75 567.5,37.93 567.8,38.08 568.1,38.21 568.4,38.28 568.57,38.29 568.7,38.29 569,38.27 569.3,38.23 569.6,38.16 569.9,38.05 570.2,37.89 570.46,37.72 570.5,37.39 570.8,21.92 570.94,17.8 571.1,23.11 571.4,37.67 571.41,37.72 571.7,37.52 572,37.11 572.3,36.79 572.36,36.77 572.6,36.73 572.9,36.69 573.2,36.65 573.5,36.62 573.8,36.59 574.1,36.57 574.4,36.55 574.7,36.54 575,36.52 575.3,36.51 575.6,36.5 575.9,36.48 576.2,36.46 576.5,36.44 576.8,36.42 577.1,36.39 577.11,36.39 577.4,36.36 577.7,36.32 578,36.29 578.3,36.25 578.6,36.2 578.9,36.16 579.2,36.11 579.5,36.07 579.8,36.02 580.1,35.97 580.4,35.91 580.7,35.86 580.9,35.82 581,35.8 581.3,35.74 581.6,35.68 581.9,35.61 582.2,35.53 582.5,35.46 582.8,35.38 583.1,35.3 583.4,35.22 583.7,35.13 584,35.05 584.3,34.97 584.6,34.9 584.7,34.87 584.9,34.82 585.2,34.73 585.5,34.64 585.8,34.54 586.1,34.44 586.4,34.34 586.7,34.25 587,34.16 587.3,34.08 587.6,34.02 587.9,33.97 588.2,33.93 588.49,33.92 588.5,33.92 588.8,33.95 589.1,34.01 589.4,34.12 589.7,34.25 590,34.4 590.3,34.58 590.6,34.77 590.9,34.97 591.2,35.17 591.5,35.36 591.8,35.55 592.1,35.72 592.29,35.82 592.4,35.88 592.7,36.03 593,36.18 593.3,36.33 593.6,36.48 593.9,36.63 594.2,36.78 594.5,36.93 594.8,37.08 595.1,37.23 595.4,37.38 595.7,37.53 596,37.68 596.08,37.72 596.3,37.83 596.6,37.97 596.9,38.1 597.2,38.23 597.5,38.36 597.8,38.49 598.1,38.62 598.4,38.76 598.7,38.91 599,39.07 599.3,39.24 599.6,39.43 599.88,39.62 599.9,39.63 600.2,39.97 600.5,40.36 600.8,40.56 600.83,40.57 601.1,40.1 601.4,39.07 601.7,38.33 601.77,38.29 602,38.3 602.3,38.36 602.6,38.44 602.9,38.53 603.2,38.61 603.5,38.66 603.67,38.67 603.8,38.66 604.1,38.63 604.4,38.57 604.7,38.48 605,38.37 605.3,38.23 605.6,38.08 605.9,37.91 606.2,37.73 606.5,37.54 606.8,37.35 607.1,37.16 607.4,36.97 607.7,36.79 608,36.61 608.3,36.45 608.42,36.39 608.6,36.29 608.9,36.12 609.2,35.94 609.5,35.74 609.8,35.54 610.1,35.33 610.4,35.12 610.7,34.92 611,34.72 611.3,34.54 611.6,34.38 611.9,34.23 612.2,34.11 612.5,34.01 612.8,33.95 613.1,33.92 613.16,33.92 613.4,33.93 613.7,33.94 614,33.96 614.3,34 614.6,34.04 614.9,34.09 615.2,34.15 615.5,34.21 615.8,34.28 616.1,34.36 616.4,34.44 616.7,34.53 617,34.62 617.3,34.72 617.6,34.82 617.9,34.92 618.2,35.02 618.5,35.13 618.8,35.23 618.85,35.25 619.1,35.36 619.4,35.53 619.7,35.75 620,35.99 620.3,36.25 620.6,36.52 620.9,36.79 621.2,37.04 621.5,37.27 621.8,37.46 622.1,37.6 622.4,37.69 622.65,37.72 622.7,37.72 623,37.58 623.3,37.27 623.6,36.82 623.9,36.27 624.2,35.64 624.5,34.97 624.8,34.3 625.1,33.66 625.4,33.08 625.7,32.59 626,32.24 626.3,32.05 626.44,32.03 626.6,32.04 626.9,32.11 627.2,32.23 627.5,32.4 627.8,32.6 628.1,32.81 628.34,32.98 628.4,33.02 628.7,33.38 629,33.76 629.29,33.92 629.3,33.92 629.6,33.82 629.9,33.53 630.2,33.05 630.5,32.38 630.8,31.52 631.1,30.47 631.19,30.13" fill="none" stroke="#ff4040" stroke-width="1.4" stroke-linejoin="round" />
<polyline points="387.5,112.01 387.8,111.15 388.1,110.47 388.4,110 388.7,109.74 388.92,109.68 389,109.7 389.3,110.07 389.6,110.78 389.9,111.6 390.2,112.37 390.5,112.86 390.67,112.95 390.8,112.85 391.1,112.02 391.4,110.88 391.7,110.03 391.84,109.91 392,109.99 392.3,110.47 392.6,111.23 392.9,112.06 393.2,112.77 393.5,113.16 393.59,113.18 393.8,112.89 394.1,111.77 394.4,110.47 394.7,109.7 394.76,109.68 395,109.85 395.3,110.42 395.6,111.22 395.9,112.03 396.2,112.68 396.5,112.95 396.51,112.95 396.8,112.41 397.1,111.17 397.4,109.95 397.68,109.45 397.7,109.45 398,109.64 398.3,110.12 398.6,110.79 398.85,111.43 398.9,111.59 399.2,113.12 399.5,115.11 399.78,116.69 399.8,116.77 400.1,118.14 400.4,119.27 400.6,119.61 400.7,119.66 401,119.77 401.3,119.84 401.6,119.91 401.77,119.96 401.9,120.01 402.2,120.16 402.35,120.19 402.5,119.05 402.8,114.12 402.93,113.18 403.1,116.59 403.28,120.77 403.4,120.98 403.7,121.38 404,121.63 404.3,121.78 404.6,121.9 404.69,121.94 404.9,122.05 405.2,122.19 405.5,122.32 405.8,122.42 406.1,122.49 406.4,122.53 406.44,122.53 406.7,122.52 407,122.5 407.3,122.46 407.6,122.41 407.9,122.36 408.19,122.29 408.2,122.29 408.5,122.11 408.8,121.74 409.1,121.24 409.4,120.63 409.7,119.98 410,119.31 410.3,118.67 410.6,118.11 410.76,117.85 410.9,117.64 411.2,117.14 411.5,116.62 411.8,116.1 412.1,115.61 412.4,115.16 412.7,114.79 413,114.52 413.3,114.37 413.45,114.35 413.6,114.37 413.9,114.53 414.2,114.81 414.5,115.2 414.8,115.66 415.1,116.18 415.4,116.74 415.7,117.3 416,117.84 416.3,118.34 416.36,118.44 416.6,118.82 416.9,119.39 417.2,120.01 417.5,120.67 417.8,121.33 418.1,121.99 418.4,122.6 418.7,123.16 419,123.62 419.3,123.98 419.6,124.21 419.87,124.28 419.9,124.27 420.2,123.89 420.5,122.99 420.8,121.74 421.1,120.3 421.4,118.84 421.62,117.85 421.7,117.5 422,115.86 422.3,113.92 422.6,111.93 422.9,110.12 423.2,108.72 423.5,107.99 423.61,107.93 423.8,108.22 424.1,109.53 424.4,111.36 424.7,113.13 425,114.23 425.12,114.35 425.3,114.21 425.6,113.5 425.9,112.63 426.2,112.06 426.29,112.01 426.5,112.22 426.8,113.08 427.1,114.25 427.4,115.34 427.46,115.52 427.7,116.19 428,117.06 428.3,117.93 428.6,118.78 428.9,119.57 429.2,120.29 429.5,120.89 429.8,121.36 429.8,121.36 430.1,121.76 430.4,122.15 430.7,122.51 431,122.83 431.3,123.1 431.6,123.31 431.9,123.43 432.13,123.46 432.2,123.46 432.5,123.46 432.8,123.46 433.1,123.46 433.4,123.46 433.7,123.46 434,123.46 434.3,123.46 434.6,123.46 434.9,123.46 435.05,123.46 435.2,123.45 435.5,123.39 435.8,123.28 436.1,123.12 436.4,122.94 436.7,122.74 437,122.53 437.3,122.33 437.6,122.14 437.9,121.97 437.97,121.94 438.2,121.84 438.5,121.72 438.8,121.61 439.1,121.5 439.4,121.4 439.7,121.29 440,121.18 440.3,121.05 440.6,120.92 440.89,120.77 440.9,120.77 441.2,120.6 441.5,120.4 441.8,120.19 442.1,119.96 442.4,119.72 442.7,119.47 443,119.22 443.23,119.02 443.3,118.95 443.6,118.62 443.9,118.22 444.2,117.83 444.5,117.51 444.8,117.31 444.98,117.27 445.1,117.29 445.4,117.45 445.7,117.72 446,118.07 446.3,118.41 446.6,118.7 446.73,118.79 446.9,118.89 447.2,119.09 447.5,119.27 447.8,119.43 448.1,119.55 448.4,119.6 448.48,119.61 448.7,119.6 449,119.56 449.3,119.5 449.6,119.44 449.9,119.39 450.2,119.37 450.23,119.37 450.5,119.4 450.8,119.51 451.1,119.68 451.4,119.89 451.7,120.14 452,120.4 452.3,120.68 452.6,120.94 452.9,121.18 453.15,121.36 453.2,121.39 453.5,121.58 453.8,121.76 454.1,121.94 454.4,122.12 454.7,122.3 455,122.48 455.3,122.65 455.6,122.83 455.9,123.01 456.07,123.11 456.2,123.19 456.5,123.36 456.8,123.54 457.1,123.72 457.4,123.89 457.7,124.07 458,124.25 458.3,124.43 458.6,124.62 458.9,124.8 458.99,124.86 459.2,125.01 459.5,125.26 459.8,125.53 460.1,125.77 460.4,125.95 460.7,126.03 460.74,126.03 461,125.94 461.3,125.63 461.6,125.19 461.9,124.67 462.2,124.14 462.5,123.69 462.5,123.69 462.8,123.34 463.1,123.04 463.4,122.74 463.7,122.38 464,121.89 464.25,121.36 464.3,121.18 464.6,119.1 464.83,117.85 464.9,117.73 465.2,117.26 465.5,116.92 465.8,116.72 466,116.69 466.23,116.04 466.47,114.23 466.7,111.75 466.93,109.28 467.17,107.46 467.4,106.8 467.6,107.02 467.8,107.65 468,108.65 468.2,109.93 468.4,111.39 468.6,112.91 468.8,114.37 469,115.65 469.2,116.65 469.4,117.28 469.6,117.5 469.82,117.28 470.04,116.64 470.26,115.65 470.48,114.39 470.7,113 470.92,111.61 471.14,110.35 471.36,109.36 471.58,108.72 471.8,108.5 472.01,108.57 472.21,108.8 472.42,109.16 472.62,109.65 472.83,110.25 473.04,110.94 473.24,111.7 473.45,112.49 473.65,113.31 473.86,114.1 474.06,114.86 474.27,115.55 474.48,116.15 474.68,116.64 474.89,117 475.09,117.23 475.3,117.3 475.51,117.18 475.72,116.82 475.92,116.26 476.13,115.51 476.34,114.62 476.55,113.65 476.75,112.65 476.96,111.68 477.17,110.79 477.38,110.04 477.58,109.48 477.79,109.12 478,109 478.2,109.12 478.4,109.48 478.6,110.04 478.8,110.79 479,111.68 479.2,112.65 479.4,113.65 479.6,114.62 479.8,115.51 480,116.26 480.2,116.82 480.4,117.18 480.6,117.3 480.82,117.13 481.04,116.63 481.26,115.86 481.48,114.88 481.7,113.8 481.92,112.72 482.14,111.74 482.36,110.97 482.58,110.47 482.8,110.3 483.02,110.4 483.23,110.71 483.45,111.19 483.67,111.83 483.88,112.56 484.1,113.35 484.32,114.14 484.53,114.88 484.75,115.51 484.97,115.99 485.18,116.3 485.4,116.4 485.6,116.3 485.8,116.02 486,115.57 486.2,114.97 486.4,114.27 486.6,113.5 486.8,112.7 487,111.93 487.2,111.23 487.4,110.63 487.6,110.18 487.8,109.9 488,109.8 488.22,109.95 488.44,110.39 488.66,111.08 488.88,111.94 489.1,112.9 489.32,113.86 489.54,114.72 489.76,115.41 489.98,115.85 490.2,116 490.4,115.92 490.6,115.7 490.8,115.33 491,114.86 491.2,114.29 491.4,113.67 491.6,113.03 491.8,112.41 492,111.84 492.2,111.37 492.4,111 492.6,110.78 492.8,110.7 493.01,110.8 493.22,111.08 493.42,111.53 493.63,112.13 493.84,112.83 494.05,113.6 494.25,114.4 494.46,115.17 494.67,115.87 494.88,116.47 495.08,116.92 495.29,117.2 495.5,117.3 495.7,117.21 495.9,116.94 496.1,116.52 496.3,115.96 496.5,115.3 496.7,114.57 496.9,113.83 497.1,113.1 497.3,112.44 497.5,111.88 497.7,111.46 497.9,111.19 498.1,111.1 498.32,111.19 498.54,111.45 498.76,111.86 498.98,112.38 499.2,112.95 499.42,113.52 499.64,114.04 499.86,114.45 500.08,114.71 500.3,114.8 500.52,114.71 500.73,114.47 500.95,114.07 501.17,113.55 501.38,112.95 501.6,112.3 501.82,111.65 502.03,111.05 502.25,110.53 502.47,110.13 502.68,109.89 502.9,109.8 503.1,109.9 503.3,110.18 503.5,110.63 503.7,111.23 503.9,111.93 504.1,112.7 504.3,113.5 504.5,114.27 504.7,114.97 504.9,115.57 505.1,116.02 505.3,116.3 505.5,116.4 505.7,116.16 505.9,115.48 506.1,114.43 506.3,113.14 506.5,111.76 506.7,110.48 506.9,109.42 507.1,108.74 507.3,108.5 507.51,108.79 507.73,109.6 507.94,110.81 508.15,112.25 508.36,113.69 508.57,114.9 508.79,115.71 509,116 509.22,115.4 509.43,113.75 509.65,111.5 509.87,109.25 510.08,107.6 510.3,107 510.51,107.17 510.72,107.67 510.92,108.47 511.13,109.53 511.34,110.78 511.55,112.14 511.75,113.56 511.96,114.92 512.17,116.17 512.38,117.23 512.58,118.03 512.79,118.53 513,118.7 513.3,119.33 513.6,119.91 513.9,120.45 514.2,120.95 514.5,121.41 514.8,121.81 515.1,122.18 515.4,122.5 515.7,122.77 516,123 516.3,123.19 516.6,123.32 516.9,123.41 517.2,123.46 517.33,123.46 517.5,123.45 517.8,123.38 518.1,123.26 518.4,123.09 518.7,122.87 519,122.63 519.3,122.37 519.6,122.1 519.9,121.82 520.18,121.57 520.2,121.55 520.5,121.24 520.8,120.87 521.1,120.45 521.4,120.01 521.7,119.55 522,119.09 522.3,118.66 522.6,118.25 522.9,117.9 523.03,117.77 523.2,117.6 523.5,117.3 523.8,116.99 524.1,116.68 524.4,116.38 524.7,116.09 525,115.82 525.3,115.57 525.6,115.36 525.9,115.18 526.2,115.05 526.5,114.96 526.8,114.92 526.82,114.92 527.1,115 527.4,115.23 527.7,115.57 528,115.98 528.3,116.43 528.6,116.87 528.9,117.26 529.2,117.56 529.5,117.74 529.67,117.77 529.8,117.77 530.1,117.77 530.4,117.77 530.7,117.77 531,117.77 531.3,117.77 531.6,117.77 531.9,117.77 532.2,117.77 532.5,117.77 532.8,117.77 533.1,117.77 533.4,117.77 533.7,117.77 534,117.77 534.3,117.77 534.6,117.77 534.9,117.77 535.2,117.77 535.36,117.77 535.5,117.78 535.8,117.82 536.1,117.89 536.4,118 536.7,118.14 537,118.3 537.3,118.48 537.6,118.67 537.9,118.86 538.2,119.06 538.5,119.26 538.8,119.46 539.1,119.64 539.16,119.67 539.4,119.81 539.7,120 540,120.21 540.3,120.42 540.6,120.65 540.9,120.88 541.2,121.12 541.5,121.36 541.8,121.59 542.1,121.83 542.4,122.06 542.7,122.28 543,122.5 543.3,122.7 543.6,122.89 543.9,123.06 544.2,123.21 544.5,123.34 544.8,123.45 544.85,123.46 545.1,123.54 545.4,123.63 545.7,123.72 546,123.8 546.3,123.89 546.6,123.97 546.9,124.04 547.2,124.11 547.5,124.18 547.8,124.24 548.1,124.29 548.4,124.33 548.7,124.36 549,124.39 549.3,124.41 549.59,124.41 549.6,124.41 549.9,123.98 550.2,122.86 550.5,121.19 550.8,119.16 551.1,116.92 551.4,114.64 551.49,113.98 551.7,111.85 552,107.89 552.3,104.91 552.44,104.49 552.6,104.85 552.9,107.01 553.2,110.21 553.5,113.4 553.8,115.54 553.96,115.87 554.1,115.7 554.4,114.43 554.7,112.32 555,109.87 555.3,107.59 555.6,105.95 555.85,105.44 555.9,105.47 556.2,107.19 556.5,110.44 556.8,113.78 557.1,115.76 557.18,115.87 557.4,115.6 557.7,114.49 558,112.86 558.3,111.07 558.6,109.49 558.9,108.47 559.08,108.28 559.2,108.35 559.5,109 559.8,110.12 560.1,111.45 560.4,112.72 560.7,113.65 560.98,113.98 561,113.97 561.3,113.68 561.6,113.02 561.9,112.16 562.2,111.28 562.5,110.57 562.8,110.2 562.87,110.18 563.1,110.29 563.4,110.71 563.7,111.33 564,112 564.3,112.59 564.6,112.96 564.77,113.03 564.9,112.79 565.2,111 565.5,108.94 565.72,108.28 565.8,108.33 566.1,109.17 566.4,110.68 566.7,112.33 567,113.6 567.24,113.98 567.3,113.91 567.6,111.91 567.9,108.32 568.2,104.72 568.5,102.68 568.57,102.59 568.8,103.67 569.1,107.28 569.4,111.7 569.7,115.09 569.9,115.87 570,115.74 570.3,114.21 570.6,111.64 570.9,108.91 571.2,106.9 571.41,106.39 571.5,106.47 571.8,107.92 572.1,110.45 572.4,113.2 572.7,115.28 572.93,115.87 573,115.8 573.3,114.1 573.6,110.74 573.9,106.58 574.2,102.48 574.5,99.29 574.8,97.86 574.83,97.85 575.1,100.5 575.4,107.6 575.7,115.75 576,121.56 576.16,122.51 576.3,122.51 576.6,122.44 576.9,122.31 577.2,122.12 577.5,121.9 577.8,121.64 578.1,121.36 578.4,121.06 578.7,120.76 579,120.47 579.3,120.19 579.6,119.93 579.9,119.7 579.95,119.67 580.2,119.5 580.5,119.29 580.8,119.07 581.1,118.85 581.4,118.62 581.7,118.39 582,118.16 582.3,117.94 582.6,117.71 582.9,117.49 583.2,117.28 583.5,117.07 583.8,116.88 584.1,116.69 584.4,116.52 584.7,116.37 585,116.23 585.3,116.12 585.6,116.02 585.9,115.95 586.2,115.9 586.5,115.87 586.59,115.87 586.8,115.89 587.1,115.97 587.4,116.12 587.7,116.32 588,116.57 588.3,116.86 588.6,117.19 588.9,117.55 589.2,117.93 589.5,118.32 589.8,118.73 590.1,119.14 590.4,119.54 590.7,119.94 591,120.31 591.3,120.66 591.6,120.98 591.9,121.27 592.2,121.51 592.29,121.57 592.5,121.71 592.8,121.9 593.1,122.09 593.4,122.27 593.7,122.45 594,122.62 594.3,122.79 594.6,122.96 594.9,123.11 595.2,123.26 595.5,123.41 595.8,123.55 596.1,123.69 596.4,123.82 596.7,123.94 597,124.06 597.3,124.18 597.6,124.28 597.9,124.39 597.98,124.41 598.2,124.48 598.5,124.59 598.8,124.69 599.1,124.79 599.4,124.89 599.7,124.99 600,125.08 600.3,125.16 600.6,125.23 600.9,125.28 601.2,125.33 601.5,125.35 601.77,125.36 601.8,125.36 602.1,125.32 602.4,125.23 602.7,125.08 603,124.89 603.3,124.66 603.6,124.41 603.9,124.13 604.2,123.84 604.5,123.54 604.8,123.23 605.1,122.94 605.4,122.66 605.57,122.51 605.7,122.4 606,122.13 606.3,121.84 606.6,121.53 606.9,121.22 607.2,120.9 607.5,120.57 607.8,120.24 608.1,119.91 608.4,119.58 608.7,119.26 609,118.95 609.3,118.65 609.6,118.37 609.9,118.1 610.2,117.86 610.31,117.77 610.5,117.63 610.8,117.39 611.1,117.15 611.4,116.91 611.7,116.66 612,116.42 612.3,116.19 612.6,115.96 612.9,115.75 613.2,115.56 613.5,115.39 613.8,115.23 614.1,115.11 614.4,115.01 614.7,114.95 615,114.92 615.06,114.92 615.3,114.99 615.6,115.24 615.9,115.64 616.2,116.16 616.5,116.77 616.8,117.42 617.1,118.1 617.4,118.75 617.7,119.36 618,119.88 618.3,120.29 618.6,120.54 618.85,120.62 618.9,120.62 619.2,120.54 619.5,120.37 619.8,120.13 620.1,119.84 620.4,119.54 620.7,119.26 621,119.01 621.3,118.82 621.6,118.73 621.7,118.72 621.9,119.05 622.2,120.27 622.5,121.38 622.65,121.57 622.8,121.44 623.1,120.53 623.4,118.94 623.7,116.87 624,114.54 624.3,112.15 624.6,109.93 624.9,108.09 625.2,106.84 625.49,106.39 625.5,106.39 625.8,106.85 626.1,108 626.4,109.55 626.7,111.22 627,112.73 627.3,113.79 627.39,113.98 627.6,114.3 627.9,114.67 628.2,114.96 628.5,115.2 628.8,115.41 629.1,115.62 629.4,115.85 629.7,116.13 630,116.48 630.24,116.82 630.3,116.93 630.6,117.59 630.9,118.45 631.2,119.47 631.5,120.58 631.76,121.57" fill="none" stroke="#ff4040" stroke-width="1.4" stroke-linejoin="round" />
<polyline points="387.5,195.43 388.9,194.48 389.86,191.14 390.62,194.48 391.57,193.52 392.24,194.48 392.9,194 393.67,195.14 394.43,198.29 395.1,194.48 395.57,191.62 396.33,194.48 397,193.52 397.95,194.19 398.9,195.9 400.33,196.67 401.29,196.38 402.24,194.48 403.19,193.05 403.95,192.1 404.62,192.57 405.1,186.86 405.67,193.05 406.33,189.24 407,194 407.76,190.19 408.43,195.43 409.38,199.6 410.33,198.76 411.29,196.86 412.71,194.48 413.67,194 415.1,196.38 416.52,198.29 417.95,199.24 419.38,199.24 420.81,198.29 422.24,196.38 423.67,194.48 424.62,193.81 425.57,194.76 426.81,196.86 427.95,198.29 428.9,194 429.38,191.14 429.86,194.48 430.33,191.14 430.81,194 431.29,190.67 431.76,194.48 432.33,191.14 432.9,196.38 433.67,193.05 434.33,189.24 434.9,194 435.38,191.62 435.95,194.95 436.52,196.86 437,192.57 437.48,197.33 438.43,199.24 439.38,199.6 440.33,199.6 441.29,198.76 442.05,197.33 442.71,194.48 443.19,191.14 443.67,194.48 444.14,184.48 444.71,194 445.29,196.38 446.05,194.48 447,195.43 447.95,196.38 448.9,198.29 450.33,199.6 451.76,199.6 452.71,199.24 453.48,196.86 454.14,191.14 454.62,197.81 455.1,196.86 456.05,194.95 457,199.24 457.48,193.05 458.24,196.86 458.9,192.57 459.38,195.43 460.14,192.1 460.81,198.29 461.76,193.05 462.52,187.33 463.19,193.05 463.95,194.48 464.62,188.29 465.29,194 466.05,186.86 466.71,192.1 467.38,193.05 467.95,195.9 468.9,196.86 469.86,195.43 470.62,195.9 471.57,193.05 472.24,185.43 472.9,193.05 473.48,189.24 474.05,192.57 474.62,197.81 475.1,194 475.57,189.24 476.14,194 476.81,191.62 477.48,194.48 478.43,195.9 479.86,196.38 481.29,194.95 482.43,194 483.19,193.05 483.95,195.43 484.62,196.38 485.1,197.33 485.57,195.9 486.52,194 487.48,193.05 488.43,193.52 489.38,194.95 490.81,195.9 491.95,194.48 492.52,187.33 493.19,194 493.67,195.9 494.14,199.24 494.62,194.48 495.57,194.48 496.52,194 497.19,193.05 497.67,190.19 498.24,181.14 498.9,188.29 499.57,193.52 500.33,191.62 501,185.43 501.67,192.1 502.24,194 503.19,193.52 504.14,194 504.81,198.29 505.29,195.43 506.05,194.48 507,194 507.95,194 508.9,194.48 509.86,195.43 510.62,196.86 511.29,194.48 512.24,193.52 513.19,194 514.14,194.48 515.1,195.43 515.76,195.9 516.52,192.57 517,191.62 517.48,195.9 518.24,197.81 518.9,199.24 520.33,199.6 521.76,199.6 523.19,199.24 524.14,197.81 525.1,195.9 526.52,194.48 527.48,194.95 528.43,196.38 529.86,197.33 531.29,197.81 532.71,198.57 534.14,197.81 535.1,196.38 536.05,194 537,191.62 537.48,188.29 537.95,190.19 538.43,191.62 539.19,199.24 539.57,191.14 540.14,199.24 540.81,188.29 541.48,199.24 542.05,189.24 542.62,199.24 543.19,193.05 543.76,199.24 544.33,190.67 544.9,199.24 545.48,185.43 546.05,188.76 546.62,184.48 547.19,187.33 547.95,183.52 548.9,183.52 549.67,189.24 550.43,191.14 551.29,192.1 552.24,194 553.19,194.48 554.14,195.43 555.1,193.52 556.05,194.95 557,195.43 557.95,194.48 558.9,193.52 560.33,194 561.76,194.48 563.19,194 564.14,193.52 565.1,194 565.86,193.52 566.52,183.52 567,184.6 567.77,192.3 568.45,192.79 569.41,193.27 570.37,193.75 571.34,194.71 572.3,194.23 573.26,195.19 573.94,189.41 574.51,185.08 575.19,193.27 575.86,194.23 576.63,198.57 577.4,193.27 578.08,199.53 578.75,198.08 579.52,194.71 580.49,197.6 581.45,193.27 581.93,188.45 582.41,199.6 582.9,192.3 583.57,197.12 584.15,189.41 584.82,185.56 585.3,199.6 585.79,187.49 586.27,192.79 587.23,195.19 588.68,197.12 590.12,198.08 591.08,199.6 591.86,198.08 592.53,194.71 593.2,197.12 593.97,191.82 594.75,198.08 595.42,194.71 596.09,192.3 596.87,187.97 597.44,197.6 598.02,194.71 598.79,193.27 599.56,186.52 600.14,193.27 600.72,185.08 601.3,193.27 601.87,190.86 602.65,191.34 603.42,189.9 604.09,192.3 604.86,190.38 605.54,183.15 606.21,193.27 606.69,188.93 607.27,199.05 607.94,192.3 608.43,199.53 609,191.34 609.58,197.6 610.16,191.34 610.83,198.08 611.51,193.27 612.28,190.86 612.95,197.6 613.72,194.71 614.69,195.19 615.65,197.12 616.61,198.57 617.58,199.53 618.54,199.6 619.5,199.53 620.47,198.57 621.43,197.12 622.11,183.15 622.68,193.27 623.36,187.49 624.03,194.71 624.61,186.52 625.29,193.27 625.96,189.41 626.54,196.16 627.21,193.27 627.89,188.93 628.46,194.71 629.14,189.9 629.81,196.16 630.58,193.27 631.35,194.23" fill="none" stroke="#ff2020" stroke-width="1.3299999999999998" stroke-linejoin="round" />
<polyline points="387.5,267.09 388.79,277.64 391.1,259.85 392.5,277.23 394.4,260.04 395.74,268.94 396.64,259 397.86,276.67 398.6,265.55 399.43,270.07 400.87,262.6 402.14,272.06 402.9,276.32 405.65,262.07 406.9,271.14 407.87,261.33 408.79,271.75 410.28,265.4 411.86,270.77 413.24,263.35 413.98,274.07 415.19,265.08 416.52,272.16 417.63,258.73 418.76,268.33 420.09,258.21 421.53,270.37 422.83,277.35 424.87,260.2 425.91,268.55 426.84,259.34 427.61,271.72 429.1,259.38 430.05,270.03 431.55,266.48 432.41,269.08 433.55,265.33 434.25,270.06 435.46,261.03 436.62,272.83 437.37,260.11 438.86,270.18 439.92,278.04 441.8,259.9 442.97,269.7 443.72,276.11 445.66,261.68 446.68,272.07 447.51,264.29 448.54,274.51 450.14,262.89 450.91,276.87 453.08,264.47 454.21,279.3 456.75,260.38 458.19,277.61 461.36,264.68 462.91,269.64 463.76,262.21 465.17,268.56 466.6,258.97 468.02,273.05 468.93,263.91 469.65,276.62 471.81,263.66 473.58,275.16 475.17,263.73 476.07,268.24 476.95,258.35 478.41,272.01 479.83,278.14 482.9,264.19 484.5,268.01 485.91,259.22 487.49,269.57 489.04,265.49 489.85,274.56 491.28,258.89 492.86,269.09 494.05,266.97 495.63,270.56 497.17,258.35 498.61,268.28 499.58,261.17 500.51,267.52 502.03,262.42 503.25,269.52 504.78,261.65 505.95,277.26 508.01,259.52 509.65,269.88 511,263.62 512.17,272.91 512.96,264.37 513.91,270.13 515.12,258 516.21,270.08 517.38,262.27 518.56,274.59 519.88,258 520.82,274.57 522.27,265.51 523.37,276.46 525.27,263.52 526.9,267.28 528.25,265.21 529.74,267.64 531.3,261.72 532.89,267.24 533.98,263.17 534.85,271.94 535.57,262.13 536.29,270.92 537.45,279.44 540.35,265.33 541.44,266.55 542.84,265.14 543.92,272.85 544.85,258 546.06,266.68 546.81,262.13 547.58,270.86 549,278.92 550.89,264.68 552.26,270.01 553.79,264.99 554.97,266.65 555.81,276.31 558.05,261.33 559.66,269.42 560.52,266.01 561.44,278.43 564.01,260.64 565.39,266.49 566.83,261.15 568.28,269.36 569.6,262.64 571.05,270.55 572.11,265.48 572.93,278.46 575.09,260.48 576.16,272.97 577.46,263.53 578.42,266.58 579.52,258 581.1,267.09 582.67,262.31 583.37,268.87 584.52,260.81 585.23,266.14 586.29,275.59 588.51,260.9 589.98,271.47 591.27,258 592.32,274.06 593.16,259.3 593.9,272.97 595.16,258 595.99,268.96 597.44,258 598.66,270.64 599.99,265.33 600.81,265.99 602.26,259.33 603.52,268.71 604.23,258.1 605.38,270.31 606.14,263.03 606.91,271.01 607.79,258 608.93,268.55 610.25,259.33 611.53,276.09 613.68,263.96 614.93,265.45 615.68,258.7 617,266.91 618.17,260.72 618.98,266.26 620.56,265.18 621.67,273.46 622.77,263.22 624.33,269.28 625.15,258 625.97,268.58 627.47,262.94 628.98,265.28 629.68,260.72 630.65,267.12 631.5,266.5" fill="none" stroke="#ff2020" stroke-width="1.3299999999999998" stroke-linejoin="round" />
<line x1="387.5" y1="37.2" x2="631.5" y2="35.4" stroke="#8a8a8a" stroke-width="1.3"/>
<line x1="387.5" y1="37.2" x2="631.5" y2="35.4" stroke="#222" stroke-width="1.3" stroke-dasharray="3,0.7"/>
<line x1="387.5" y1="114.8" x2="631.5" y2="110.2" stroke="#8a8a8a" stroke-width="1.3"/>
<line x1="387.5" y1="114.8" x2="631.5" y2="110.2" stroke="#222" stroke-width="1.3" stroke-dasharray="3,0.7"/>
<line x1="387.5" y1="195.2" x2="631.5" y2="193.7" stroke="#8a8a8a" stroke-width="1.3"/>
<line x1="387.5" y1="195.2" x2="631.5" y2="193.7" stroke="#222" stroke-width="1.3" stroke-dasharray="3,0.7"/>
<line x1="387.5" y1="269.9" x2="631.5" y2="266.3" stroke="#8a8a8a" stroke-width="1.3"/>
<line x1="387.5" y1="269.9" x2="631.5" y2="266.3" stroke="#222" stroke-width="1.3" stroke-dasharray="3,0.7"/>
<rect x="387.5" y="18" width="244" height="23" fill="none" stroke="#bcbcbc" stroke-width="1"/>
<line x1="436.3" y1="41" x2="436.3" y2="38.8" stroke="#bcbcbc" stroke-width="0.8"/>
<line x1="436.3" y1="18" x2="436.3" y2="20.2" stroke="#bcbcbc" stroke-width="0.8"/>
<line x1="485.1" y1="41" x2="485.1" y2="38.8" stroke="#bcbcbc" stroke-width="0.8"/>
<line x1="485.1" y1="18" x2="485.1" y2="20.2" stroke="#bcbcbc" stroke-width="0.8"/>
<line x1="533.9" y1="41" x2="533.9" y2="38.8" stroke="#bcbcbc" stroke-width="0.8"/>
<line x1="533.9" y1="18" x2="533.9" y2="20.2" stroke="#bcbcbc" stroke-width="0.8"/>
<line x1="582.7" y1="41" x2="582.7" y2="38.8" stroke="#bcbcbc" stroke-width="0.8"/>
<line x1="582.7" y1="18" x2="582.7" y2="20.2" stroke="#bcbcbc" stroke-width="0.8"/>
<line x1="387.5" y1="19.5" x2="389.7" y2="19.5" stroke="#bcbcbc" stroke-width="0.8"/>
<line x1="631.5" y1="19.5" x2="629.3" y2="19.5" stroke="#bcbcbc" stroke-width="0.8"/>
<line x1="387.5" y1="30.2" x2="389.7" y2="30.2" stroke="#bcbcbc" stroke-width="0.8"/>
<line x1="631.5" y1="30.2" x2="629.3" y2="30.2" stroke="#bcbcbc" stroke-width="0.8"/>
<line x1="387.5" y1="41" x2="389.7" y2="41" stroke="#bcbcbc" stroke-width="0.8"/>
<line x1="631.5" y1="41" x2="629.3" y2="41" stroke="#bcbcbc" stroke-width="0.8"/>
<text x="384" y="24" font-size="11.5" text-anchor="end" font-weight="normal" font-style="normal" >10</text>
<text x="384" y="34.7" font-size="11.5" text-anchor="end" font-weight="normal" font-style="normal" >5</text>
<text x="384" y="45.5" font-size="11.5" text-anchor="end" font-weight="normal" font-style="normal" >0</text>
<rect x="387.5" y="97.7" width="244" height="28.7" fill="none" stroke="#bcbcbc" stroke-width="1"/>
<line x1="436.3" y1="126.4" x2="436.3" y2="124.2" stroke="#bcbcbc" stroke-width="0.8"/>
<line x1="436.3" y1="97.7" x2="436.3" y2="99.9" stroke="#bcbcbc" stroke-width="0.8"/>
<line x1="485.1" y1="126.4" x2="485.1" y2="124.2" stroke="#bcbcbc" stroke-width="0.8"/>
<line x1="485.1" y1="97.7" x2="485.1" y2="99.9" stroke="#bcbcbc" stroke-width="0.8"/>
<line x1="533.9" y1="126.4" x2="533.9" y2="124.2" stroke="#bcbcbc" stroke-width="0.8"/>
<line x1="533.9" y1="97.7" x2="533.9" y2="99.9" stroke="#bcbcbc" stroke-width="0.8"/>
<line x1="582.7" y1="126.4" x2="582.7" y2="124.2" stroke="#bcbcbc" stroke-width="0.8"/>
<line x1="582.7" y1="97.7" x2="582.7" y2="99.9" stroke="#bcbcbc" stroke-width="0.8"/>
<line x1="387.5" y1="107.5" x2="389.7" y2="107.5" stroke="#bcbcbc" stroke-width="0.8"/>
<line x1="631.5" y1="107.5" x2="629.3" y2="107.5" stroke="#bcbcbc" stroke-width="0.8"/>
<line x1="387.5" y1="126.4" x2="389.7" y2="126.4" stroke="#bcbcbc" stroke-width="0.8"/>
<line x1="631.5" y1="126.4" x2="629.3" y2="126.4" stroke="#bcbcbc" stroke-width="0.8"/>
<text x="384" y="112" font-size="11.5" text-anchor="end" font-weight="normal" font-style="normal" >10</text>
<text x="384" y="130.9" font-size="11.5" text-anchor="end" font-weight="normal" font-style="normal" >0</text>
<rect x="387.5" y="177.3" width="244" height="22.9" fill="none" stroke="#bcbcbc" stroke-width="1"/>
<line x1="436.3" y1="200.2" x2="436.3" y2="198" stroke="#bcbcbc" stroke-width="0.8"/>
<line x1="436.3" y1="177.3" x2="436.3" y2="179.5" stroke="#bcbcbc" stroke-width="0.8"/>
<line x1="485.1" y1="200.2" x2="485.1" y2="198" stroke="#bcbcbc" stroke-width="0.8"/>
<line x1="485.1" y1="177.3" x2="485.1" y2="179.5" stroke="#bcbcbc" stroke-width="0.8"/>
<line x1="533.9" y1="200.2" x2="533.9" y2="198" stroke="#bcbcbc" stroke-width="0.8"/>
<line x1="533.9" y1="177.3" x2="533.9" y2="179.5" stroke="#bcbcbc" stroke-width="0.8"/>
<line x1="582.7" y1="200.2" x2="582.7" y2="198" stroke="#bcbcbc" stroke-width="0.8"/>
<line x1="582.7" y1="177.3" x2="582.7" y2="179.5" stroke="#bcbcbc" stroke-width="0.8"/>
<line x1="387.5" y1="177.3" x2="389.7" y2="177.3" stroke="#bcbcbc" stroke-width="0.8"/>
<line x1="631.5" y1="177.3" x2="629.3" y2="177.3" stroke="#bcbcbc" stroke-width="0.8"/>
<line x1="387.5" y1="200.2" x2="389.7" y2="200.2" stroke="#bcbcbc" stroke-width="0.8"/>
<line x1="631.5" y1="200.2" x2="629.3" y2="200.2" stroke="#bcbcbc" stroke-width="0.8"/>
<text x="384" y="181.8" font-size="11.5" text-anchor="end" font-weight="normal" font-style="normal" >50</text>
<text x="384" y="204.7" font-size="11.5" text-anchor="end" font-weight="normal" font-style="normal" >0</text>
<rect x="387.5" y="257" width="244" height="22.8" fill="none" stroke="#bcbcbc" stroke-width="1"/>
<line x1="436.3" y1="279.8" x2="436.3" y2="277.6" stroke="#bcbcbc" stroke-width="0.8"/>
<line x1="436.3" y1="257" x2="436.3" y2="259.2" stroke="#bcbcbc" stroke-width="0.8"/>
<line x1="485.1" y1="279.8" x2="485.1" y2="277.6" stroke="#bcbcbc" stroke-width="0.8"/>
<line x1="485.1" y1="257" x2="485.1" y2="259.2" stroke="#bcbcbc" stroke-width="0.8"/>
<line x1="533.9" y1="279.8" x2="533.9" y2="277.6" stroke="#bcbcbc" stroke-width="0.8"/>
<line x1="533.9" y1="257" x2="533.9" y2="259.2" stroke="#bcbcbc" stroke-width="0.8"/>
<line x1="582.7" y1="279.8" x2="582.7" y2="277.6" stroke="#bcbcbc" stroke-width="0.8"/>
<line x1="582.7" y1="257" x2="582.7" y2="259.2" stroke="#bcbcbc" stroke-width="0.8"/>
<line x1="387.5" y1="257" x2="389.7" y2="257" stroke="#bcbcbc" stroke-width="0.8"/>
<line x1="631.5" y1="257" x2="629.3" y2="257" stroke="#bcbcbc" stroke-width="0.8"/>
<line x1="387.5" y1="279.8" x2="389.7" y2="279.8" stroke="#bcbcbc" stroke-width="0.8"/>
<line x1="631.5" y1="279.8" x2="629.3" y2="279.8" stroke="#bcbcbc" stroke-width="0.8"/>
<text x="384" y="261.5" font-size="11.5" text-anchor="end" font-weight="normal" font-style="normal" >50</text>
<text x="384" y="284.3" font-size="11.5" text-anchor="end" font-weight="normal" font-style="normal" >0</text>
<text x="466.53" y="12" font-size="11.5" font-weight="bold" font-style="normal" textLength="14.05" lengthAdjust="spacingAndGlyphs">IF</text>
<text x="480.49" y="13.6" font-size="8" font-weight="bold" font-style="normal">4</text>
<text x="484.59" y="13.6" font-size="8" font-weight="bold" font-style="normal">,</text>
<text x="485.92" y="13.6" font-size="8" font-weight="bold" font-style="normal" textLength="6.27" lengthAdjust="spacingAndGlyphs">F</text>
<text x="492.37" y="14.4" font-size="6" font-weight="bold" font-style="normal" textLength="3.2" lengthAdjust="spacingAndGlyphs">d</text>
<text x="501.4" y="12" font-size="11.5" font-weight="bold" font-style="normal" textLength="10.9" lengthAdjust="spacingAndGlyphs">vs</text>
<text x="515.96" y="12" font-size="11.5" font-weight="bold" font-style="normal" textLength="13.07" lengthAdjust="spacingAndGlyphs">IF</text>
<text x="528.87" y="13.6" font-size="8" font-weight="bold" font-style="normal" textLength="23.07" lengthAdjust="spacingAndGlyphs">ext,th</text>
<text x="463.43" y="92" font-size="11.5" font-weight="bold" font-style="normal" textLength="14.05" lengthAdjust="spacingAndGlyphs">IF</text>
<text x="477.2" y="93.6" font-size="8" font-weight="bold" font-style="normal">3</text>
<text x="481.49" y="93.6" font-size="8" font-weight="bold" font-style="normal">,</text>
<text x="482.82" y="93.6" font-size="8" font-weight="bold" font-style="normal" textLength="6.27" lengthAdjust="spacingAndGlyphs">F</text>
<text x="489.27" y="94.4" font-size="6" font-weight="bold" font-style="normal" textLength="3.2" lengthAdjust="spacingAndGlyphs">d</text>
<text x="498.3" y="92" font-size="11.5" font-weight="bold" font-style="normal" textLength="10.9" lengthAdjust="spacingAndGlyphs">vs</text>
<text x="512.83" y="92" font-size="11.5" font-weight="bold" font-style="normal" textLength="6.31" lengthAdjust="spacingAndGlyphs">3</text>
<text x="519.06" y="92" font-size="11.5" font-weight="bold" font-style="normal" textLength="13.07" lengthAdjust="spacingAndGlyphs">IF</text>
<text x="531.97" y="93.6" font-size="8" font-weight="bold" font-style="normal" textLength="23.07" lengthAdjust="spacingAndGlyphs">ext,th</text>
<text x="463.43" y="171.4" font-size="11.5" font-weight="bold" font-style="normal" textLength="14.05" lengthAdjust="spacingAndGlyphs">IF</text>
<text x="477.16" y="173" font-size="8" font-weight="bold" font-style="normal">2</text>
<text x="481.49" y="173" font-size="8" font-weight="bold" font-style="normal">,</text>
<text x="482.82" y="173" font-size="8" font-weight="bold" font-style="normal" textLength="6.27" lengthAdjust="spacingAndGlyphs">F</text>
<text x="489.27" y="173.8" font-size="6" font-weight="bold" font-style="normal" textLength="3.2" lengthAdjust="spacingAndGlyphs">d</text>
<text x="498.3" y="171.4" font-size="11.5" font-weight="bold" font-style="normal" textLength="10.9" lengthAdjust="spacingAndGlyphs">vs</text>
<text x="512.79" y="171.4" font-size="11.5" font-weight="bold" font-style="normal" textLength="6.38" lengthAdjust="spacingAndGlyphs">5</text>
<text x="519.06" y="171.4" font-size="11.5" font-weight="bold" font-style="normal" textLength="13.07" lengthAdjust="spacingAndGlyphs">IF</text>
<text x="531.97" y="173" font-size="8" font-weight="bold" font-style="normal" textLength="23.07" lengthAdjust="spacingAndGlyphs">ext,th</text>
<text x="460.43" y="250.8" font-size="11.5" font-weight="bold" font-style="normal" textLength="14.05" lengthAdjust="spacingAndGlyphs">IF</text>
<text x="473.86" y="252.4" font-size="8" font-weight="bold" font-style="normal">1</text>
<text x="478.49" y="252.4" font-size="8" font-weight="bold" font-style="normal">,</text>
<text x="479.82" y="252.4" font-size="8" font-weight="bold" font-style="normal" textLength="6.27" lengthAdjust="spacingAndGlyphs">F</text>
<text x="486.27" y="253.2" font-size="6" font-weight="bold" font-style="normal" textLength="3.2" lengthAdjust="spacingAndGlyphs">d</text>
<text x="495.3" y="250.8" font-size="11.5" font-weight="bold" font-style="normal" textLength="10.9" lengthAdjust="spacingAndGlyphs">vs</text>
<text x="509.26" y="250.8" font-size="11.5" font-weight="bold" font-style="normal" textLength="12.93" lengthAdjust="spacingAndGlyphs">10</text>
<text x="522.06" y="250.8" font-size="11.5" font-weight="bold" font-style="normal" textLength="13.07" lengthAdjust="spacingAndGlyphs">IF</text>
<text x="534.97" y="252.4" font-size="8" font-weight="bold" font-style="normal" textLength="23.07" lengthAdjust="spacingAndGlyphs">ext,th</text>
<rect x="636.7" y="16.4" width="42.1" height="26" fill="#fff" stroke="#bcbcbc" stroke-width="1"/>
<line x1="638.2" y1="23.2" x2="653.2" y2="23.2" stroke="#ff4040" stroke-width="1"/>
<line x1="638.2" y1="35.7" x2="653.2" y2="35.7" stroke="#8a8a8a" stroke-width="1.3"/>
<line x1="638.2" y1="35.7" x2="653.2" y2="35.7" stroke="#222" stroke-width="1.3" stroke-dasharray="2.6,0.7"/>
<text x="654.77" y="25.9" font-size="9.5" font-weight="bold" font-style="normal">4</text>
<text x="660.57" y="25.9" font-size="9.5" font-weight="bold" font-style="normal">,</text>
<text x="664.81" y="25.9" font-size="9.5" font-weight="bold" font-style="normal" textLength="6.71" lengthAdjust="spacingAndGlyphs">F</text>
<text x="671.81" y="27.5" font-size="6.5" font-weight="bold" font-style="normal" textLength="3.97" lengthAdjust="spacingAndGlyphs">d</text>
<text x="654.69" y="37.9" font-size="9.5" font-weight="bold" font-style="normal" textLength="15.26" lengthAdjust="spacingAndGlyphs">ext</text>
<rect x="637.2" y="99.1" width="42.7" height="25.7" fill="#fff" stroke="#bcbcbc" stroke-width="1"/>
<line x1="638.7" y1="105.9" x2="653.7" y2="105.9" stroke="#ff4040" stroke-width="1"/>
<line x1="638.7" y1="118.4" x2="653.7" y2="118.4" stroke="#8a8a8a" stroke-width="1.3"/>
<line x1="638.7" y1="118.4" x2="653.7" y2="118.4" stroke="#222" stroke-width="1.3" stroke-dasharray="2.6,0.7"/>
<text x="655.04" y="108.6" font-size="9.5" font-weight="bold" font-style="normal">3</text>
<text x="661.07" y="108.6" font-size="9.5" font-weight="bold" font-style="normal">,</text>
<text x="665.31" y="108.6" font-size="9.5" font-weight="bold" font-style="normal" textLength="6.71" lengthAdjust="spacingAndGlyphs">F</text>
<text x="672.31" y="110.2" font-size="6.5" font-weight="bold" font-style="normal" textLength="3.97" lengthAdjust="spacingAndGlyphs">d</text>
<text x="655.14" y="120.6" font-size="9.5" font-weight="bold" font-style="normal" textLength="21.92" lengthAdjust="spacingAndGlyphs">3ext</text>
<rect x="636.3" y="176.3" width="42.2" height="26" fill="#fff" stroke="#bcbcbc" stroke-width="1"/>
<line x1="637.8" y1="183.1" x2="652.8" y2="183.1" stroke="#ff4040" stroke-width="1"/>
<line x1="637.8" y1="195.6" x2="652.8" y2="195.6" stroke="#8a8a8a" stroke-width="1.3"/>
<line x1="637.8" y1="195.6" x2="652.8" y2="195.6" stroke="#222" stroke-width="1.3" stroke-dasharray="2.6,0.7"/>
<text x="654.1" y="185.8" font-size="9.5" font-weight="bold" font-style="normal">2</text>
<text x="660.17" y="185.8" font-size="9.5" font-weight="bold" font-style="normal">,</text>
<text x="664.41" y="185.8" font-size="9.5" font-weight="bold" font-style="normal" textLength="6.71" lengthAdjust="spacingAndGlyphs">F</text>
<text x="671.41" y="187.4" font-size="6.5" font-weight="bold" font-style="normal" textLength="3.97" lengthAdjust="spacingAndGlyphs">d</text>
<text x="654.24" y="197.8" font-size="9.5" font-weight="bold" font-style="normal" textLength="20.51" lengthAdjust="spacingAndGlyphs">5ext</text>
<rect x="636.3" y="254.5" width="47.4" height="25.8" fill="#fff" stroke="#bcbcbc" stroke-width="1"/>
<line x1="637.8" y1="261.3" x2="652.8" y2="261.3" stroke="#ff4040" stroke-width="1"/>
<line x1="637.8" y1="273.8" x2="652.8" y2="273.8" stroke="#8a8a8a" stroke-width="1.3"/>
<line x1="637.8" y1="273.8" x2="652.8" y2="273.8" stroke="#222" stroke-width="1.3" stroke-dasharray="2.6,0.7"/>
<text x="654.34" y="264" font-size="9.5" font-weight="bold" font-style="normal">1</text>
<text x="660.17" y="264" font-size="9.5" font-weight="bold" font-style="normal">,</text>
<text x="664.41" y="264" font-size="9.5" font-weight="bold" font-style="normal" textLength="6.71" lengthAdjust="spacingAndGlyphs">F</text>
<text x="671.41" y="265.6" font-size="6.5" font-weight="bold" font-style="normal" textLength="3.97" lengthAdjust="spacingAndGlyphs">d</text>
<text x="653.75" y="276" font-size="9.5" font-weight="bold" font-style="normal" textLength="27" lengthAdjust="spacingAndGlyphs">10ext</text>
</svg>
</body></html>
